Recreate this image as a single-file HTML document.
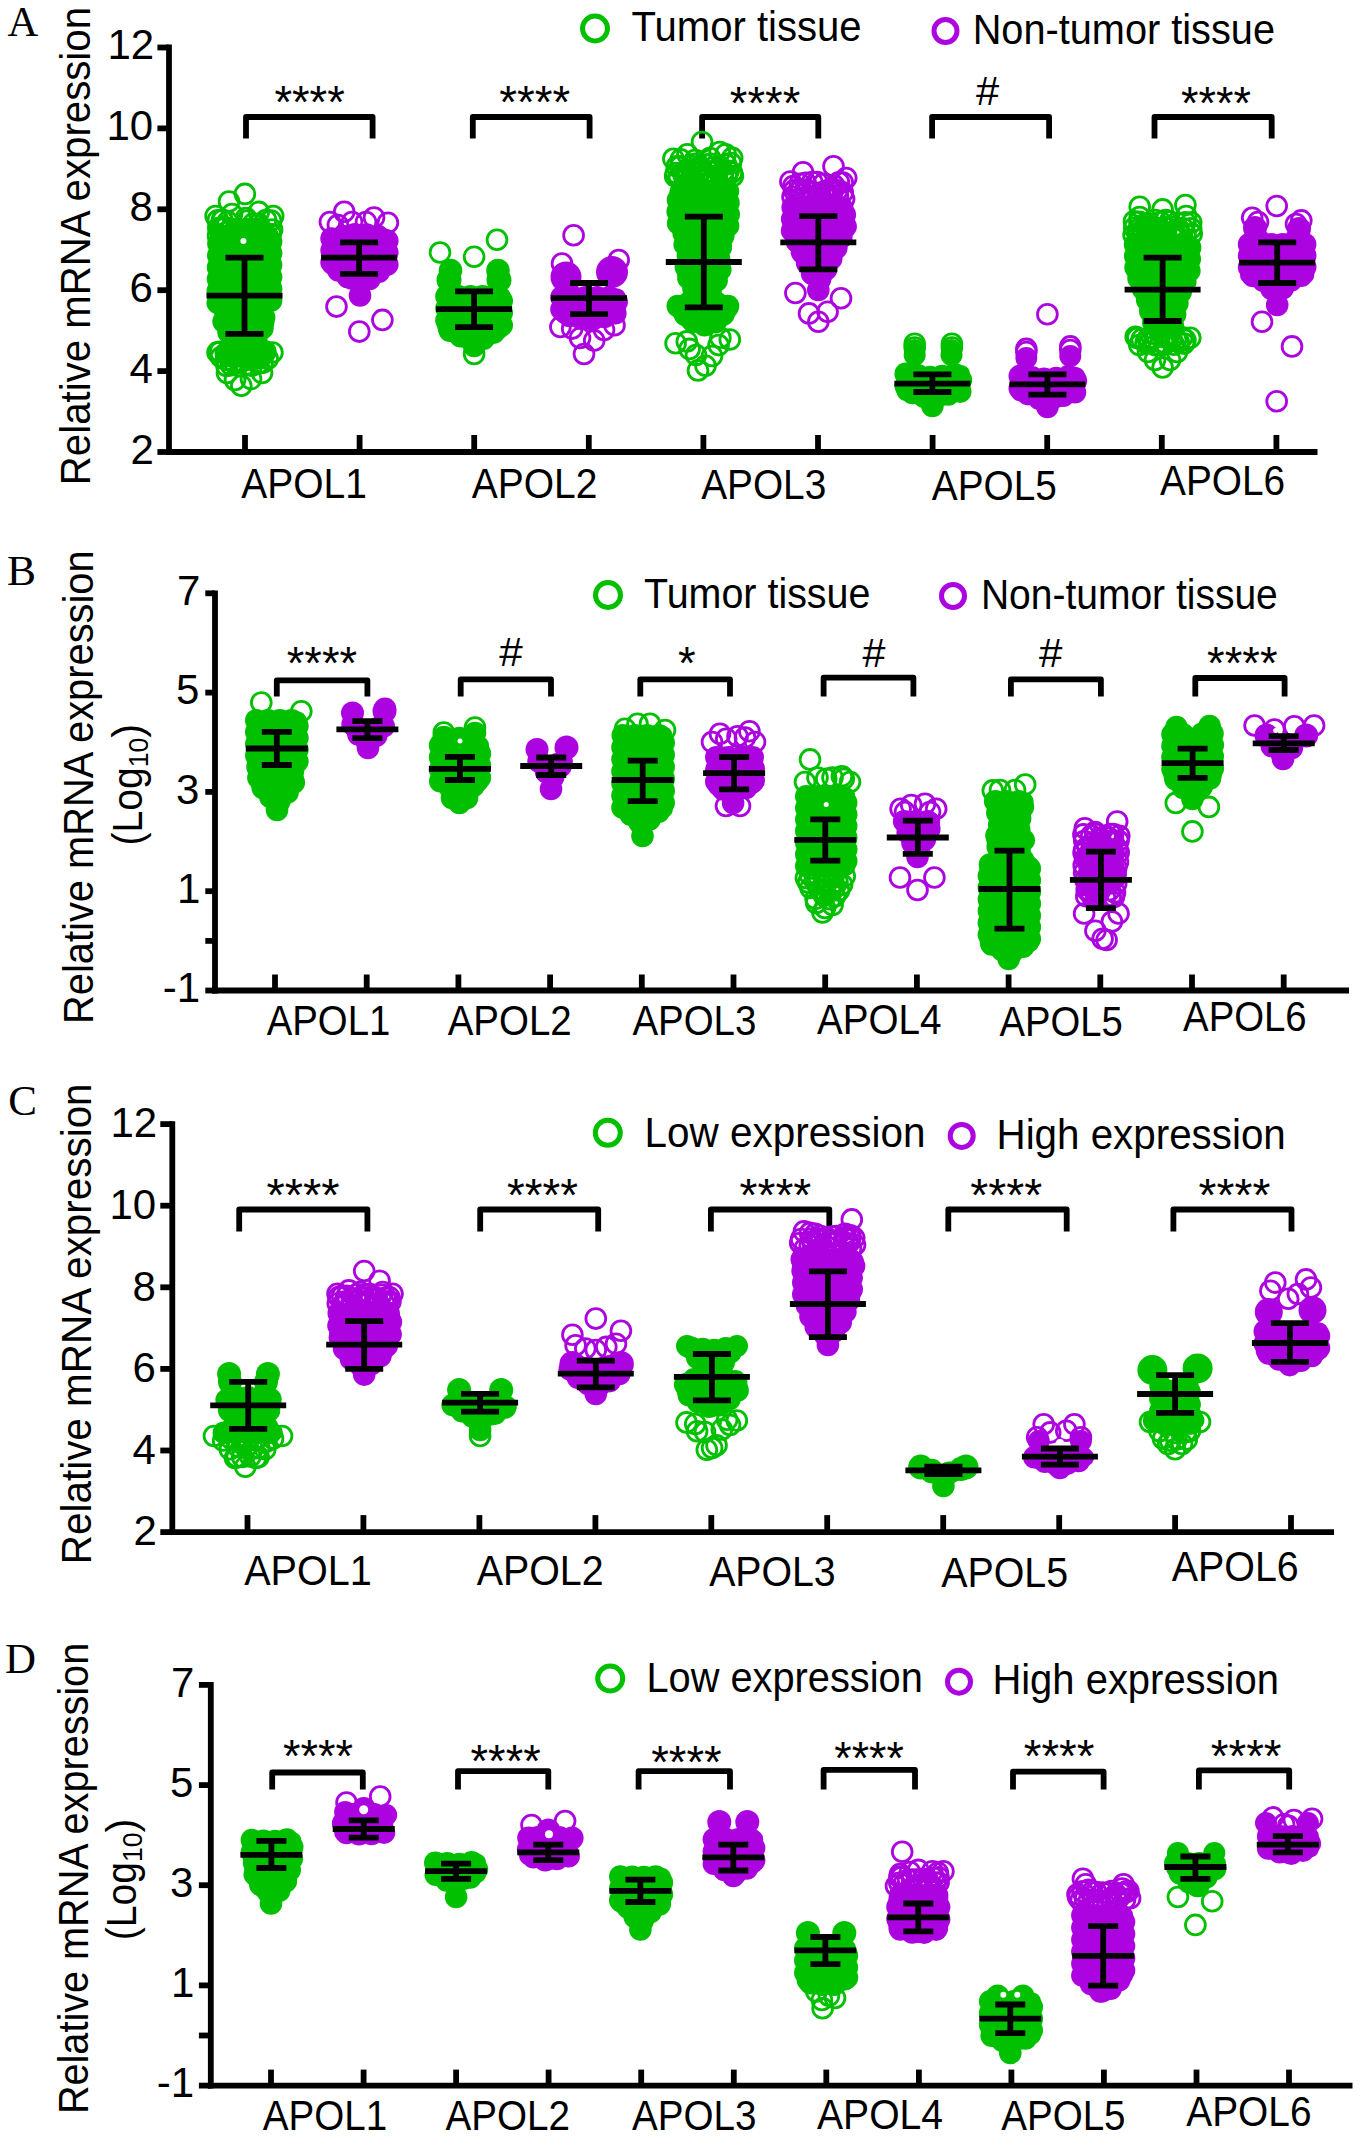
<!DOCTYPE html>
<html><head><meta charset="utf-8"><style>
html,body{margin:0;padding:0;background:#fff;}
svg{display:block;}
text{font-family:"Liberation Sans",sans-serif;fill:#000;}
</style></head><body>
<svg width="1360" height="2139" viewBox="0 0 1360 2139">
<rect width="1360" height="2139" fill="#fff"/>
<text x="7.5" y="35.7" style="font-family:'Liberation Serif'" font-size="42" textLength="30.7" lengthAdjust="spacingAndGlyphs">A</text>
<text x="6.9" y="584.9" style="font-family:'Liberation Serif'" font-size="42" textLength="29" lengthAdjust="spacingAndGlyphs">B</text>
<text x="8.2" y="1115" style="font-family:'Liberation Serif'" font-size="42" textLength="28.7" lengthAdjust="spacingAndGlyphs">C</text>
<text x="5.1" y="1672.9" style="font-family:'Liberation Serif'" font-size="42" textLength="31" lengthAdjust="spacingAndGlyphs">D</text>
<line x1="169" y1="44.6" x2="169" y2="454.9" stroke="#000" stroke-width="5.8"/>
<line x1="166.1" y1="452" x2="1317.5" y2="452" stroke="#000" stroke-width="5.8"/>
<line x1="157.4" y1="47.5" x2="169" y2="47.5" stroke="#000" stroke-width="5.8"/>
<text x="154.2" y="59.2" text-anchor="end" font-size="42">12</text>
<line x1="157.4" y1="128.4" x2="169" y2="128.4" stroke="#000" stroke-width="5.8"/>
<text x="153.2" y="140.1" text-anchor="end" font-size="42">10</text>
<line x1="157.4" y1="209.3" x2="169" y2="209.3" stroke="#000" stroke-width="5.8"/>
<text x="152.9" y="221" text-anchor="end" font-size="42">8</text>
<line x1="157.4" y1="290.2" x2="169" y2="290.2" stroke="#000" stroke-width="5.8"/>
<text x="152.9" y="301.9" text-anchor="end" font-size="42">6</text>
<line x1="157.4" y1="371.1" x2="169" y2="371.1" stroke="#000" stroke-width="5.8"/>
<text x="152.9" y="382.8" text-anchor="end" font-size="42">4</text>
<line x1="157.4" y1="452" x2="169" y2="452" stroke="#000" stroke-width="5.8"/>
<text x="153.9" y="463.7" text-anchor="end" font-size="42">2</text>
<line x1="245" y1="435" x2="245" y2="452" stroke="#000" stroke-width="5.8"/>
<line x1="359.6" y1="435" x2="359.6" y2="452" stroke="#000" stroke-width="5.8"/>
<line x1="474.2" y1="435" x2="474.2" y2="452" stroke="#000" stroke-width="5.8"/>
<line x1="588.8" y1="435" x2="588.8" y2="452" stroke="#000" stroke-width="5.8"/>
<line x1="703.4" y1="435" x2="703.4" y2="452" stroke="#000" stroke-width="5.8"/>
<line x1="818" y1="435" x2="818" y2="452" stroke="#000" stroke-width="5.8"/>
<line x1="932.6" y1="435" x2="932.6" y2="452" stroke="#000" stroke-width="5.8"/>
<line x1="1047.2" y1="435" x2="1047.2" y2="452" stroke="#000" stroke-width="5.8"/>
<line x1="1161.8" y1="435" x2="1161.8" y2="452" stroke="#000" stroke-width="5.8"/>
<line x1="1276.4" y1="435" x2="1276.4" y2="452" stroke="#000" stroke-width="5.8"/>
<text transform="translate(90.3,482.3) rotate(-90)" x="-2.9" y="0" font-size="42" textLength="478.2" lengthAdjust="spacingAndGlyphs">Relative mRNA expression</text>
<circle cx="595" cy="28.5" r="12.5" fill="none" stroke="#00C000" stroke-width="5"/>
<text x="631.5" y="41.2" style="font-family:'Liberation Sans'" font-size="42" textLength="230.1" lengthAdjust="spacingAndGlyphs">Tumor tissue</text>
<circle cx="945.5" cy="31" r="11.5" fill="none" stroke="#AC04E0" stroke-width="5"/>
<text x="972.7" y="44" style="font-family:'Liberation Sans'" font-size="42" textLength="302.3" lengthAdjust="spacingAndGlyphs">Non-tumor tissue</text>
<text x="241.3" y="498.3" style="font-family:'Liberation Sans'" font-size="42" textLength="125.6" lengthAdjust="spacingAndGlyphs">APOL1</text>
<text x="471.8" y="498.3" style="font-family:'Liberation Sans'" font-size="42" textLength="125.6" lengthAdjust="spacingAndGlyphs">APOL2</text>
<text x="701.2" y="498.8" style="font-family:'Liberation Sans'" font-size="42" textLength="125.1" lengthAdjust="spacingAndGlyphs">APOL3</text>
<text x="931.8" y="499.7" style="font-family:'Liberation Sans'" font-size="42" textLength="125" lengthAdjust="spacingAndGlyphs">APOL5</text>
<text x="1160" y="495" style="font-family:'Liberation Sans'" font-size="42" textLength="125.1" lengthAdjust="spacingAndGlyphs">APOL6</text>
<path d="M246 138.5V117H372.6V138.5" fill="none" stroke="#000" stroke-width="5.8" stroke-linejoin="round"/>
<text x="274.4" y="118" style="font-family:'Liberation Sans'" font-size="46" textLength="70.4" lengthAdjust="spacingAndGlyphs">****</text>
<path d="M472.8 138.5V117H589.6V138.5" fill="none" stroke="#000" stroke-width="5.8" stroke-linejoin="round"/>
<text x="499.3" y="118.4" style="font-family:'Liberation Sans'" font-size="46" textLength="71" lengthAdjust="spacingAndGlyphs">****</text>
<path d="M702.1 138.5V117H818.3V138.5" fill="none" stroke="#000" stroke-width="5.8" stroke-linejoin="round"/>
<text x="729.8" y="118.8" style="font-family:'Liberation Sans'" font-size="46" textLength="70.5" lengthAdjust="spacingAndGlyphs">****</text>
<path d="M932.1 138.5V117H1049.1V138.5" fill="none" stroke="#000" stroke-width="5.8" stroke-linejoin="round"/>
<text x="975.9" y="104.6" style="font-family:'Liberation Sans'" font-size="40" textLength="23.2" lengthAdjust="spacingAndGlyphs">#</text>
<path d="M1154.5 138.5V117H1271.7V138.5" fill="none" stroke="#000" stroke-width="5.8" stroke-linejoin="round"/>
<text x="1181" y="118.8" style="font-family:'Liberation Sans'" font-size="46" textLength="70.1" lengthAdjust="spacingAndGlyphs">****</text>
<g fill="none" stroke="#00C000" stroke-width="2.8"><circle cx="244.9" cy="193.9" r="9.9"/><circle cx="229" cy="201.6" r="9.9"/><circle cx="215.6" cy="216" r="9.9"/><circle cx="273.2" cy="216" r="9.9"/><circle cx="258.8" cy="211.9" r="9.9"/><circle cx="232" cy="214" r="9.9"/><circle cx="246" cy="218" r="9.9"/><circle cx="222" cy="220" r="9.9"/><circle cx="266" cy="220" r="9.9"/><circle cx="241.3" cy="385.8" r="9.9"/><circle cx="235" cy="380" r="9.9"/><circle cx="251" cy="379" r="9.9"/><circle cx="227" cy="373" r="9.9"/><circle cx="262" cy="373" r="9.9"/><circle cx="217.9" cy="220.3" r="9.9"/><circle cx="222.5" cy="220.2" r="9.9"/><circle cx="227.7" cy="221.7" r="9.9"/><circle cx="247.6" cy="220.5" r="9.9"/><circle cx="253.1" cy="223.8" r="9.9"/><circle cx="258.6" cy="223.9" r="9.9"/><circle cx="271" cy="220.6" r="9.9"/><circle cx="218.3" cy="228.1" r="9.9"/><circle cx="221.5" cy="228.8" r="9.9"/><circle cx="225.1" cy="227.6" r="9.9"/><circle cx="231.5" cy="229.1" r="9.9"/><circle cx="236.1" cy="229.2" r="9.9"/><circle cx="241.5" cy="230.1" r="9.9"/><circle cx="245.9" cy="229.4" r="9.9"/><circle cx="251.2" cy="228.5" r="9.9"/><circle cx="254.7" cy="229" r="9.9"/><circle cx="259.6" cy="229.3" r="9.9"/><circle cx="272.1" cy="229.6" r="9.9"/><circle cx="218" cy="235.8" r="9.9"/><circle cx="222.6" cy="236.8" r="9.9"/><circle cx="226.8" cy="236.1" r="9.9"/><circle cx="235.5" cy="237.4" r="9.9"/><circle cx="238.8" cy="235" r="9.9"/><circle cx="242.3" cy="235.3" r="9.9"/><circle cx="246.7" cy="233.7" r="9.9"/><circle cx="250.9" cy="234.4" r="9.9"/><circle cx="256.8" cy="233.8" r="9.9"/><circle cx="260.2" cy="237" r="9.9"/><circle cx="265.1" cy="234.5" r="9.9"/><circle cx="268.1" cy="237" r="9.9"/><circle cx="270.7" cy="234.1" r="9.9"/><circle cx="217.5" cy="352.4" r="9.9"/><circle cx="220" cy="351.7" r="9.9"/><circle cx="225.9" cy="353.8" r="9.9"/><circle cx="230.2" cy="352.5" r="9.9"/><circle cx="233.6" cy="353.6" r="9.9"/><circle cx="240.1" cy="353.2" r="9.9"/><circle cx="243.5" cy="350.4" r="9.9"/><circle cx="247.2" cy="350.3" r="9.9"/><circle cx="251.9" cy="351.4" r="9.9"/><circle cx="265.3" cy="351.5" r="9.9"/><circle cx="272.4" cy="352.5" r="9.9"/><circle cx="221" cy="357.1" r="9.9"/><circle cx="226.2" cy="359.7" r="9.9"/><circle cx="230.5" cy="356" r="9.9"/><circle cx="235.3" cy="356.8" r="9.9"/><circle cx="240" cy="355.8" r="9.9"/><circle cx="246" cy="356.3" r="9.9"/><circle cx="249.9" cy="357.8" r="9.9"/><circle cx="257" cy="358.5" r="9.9"/><circle cx="261" cy="356.4" r="9.9"/><circle cx="267.7" cy="358.8" r="9.9"/><circle cx="226.5" cy="365.9" r="9.9"/><circle cx="231.2" cy="365.3" r="9.9"/><circle cx="235.2" cy="364.1" r="9.9"/><circle cx="240" cy="362.1" r="9.9"/><circle cx="246" cy="364.8" r="9.9"/><circle cx="251.8" cy="365.7" r="9.9"/><circle cx="258.3" cy="363.5" r="9.9"/><circle cx="262.6" cy="362.8" r="9.9"/></g><polygon points="217.7,302.7 225,306 223.5,322 226.6,328.8 236.4,345.5 223.8,352.1 224.9,352.7 264.2,352.7 265.2,352.2 252,345.8 262.3,328.5 265.3,322.6 261.4,306 271.1,302.3 271.1,239.3 218.5,239.3" fill="#00C000" stroke="#00C000" stroke-width="18.2" stroke-linejoin="round"/><g fill="#00C000"><circle cx="217.7" cy="302.7" r="11.3"/><circle cx="224.6" cy="309.8" r="11.3"/><circle cx="223.6" cy="321.6" r="11.3"/><circle cx="228.6" cy="332.2" r="11.3"/><circle cx="234.6" cy="342.4" r="11.3"/><circle cx="229.2" cy="349.3" r="11.3"/><circle cx="229.4" cy="352.7" r="11.3"/><circle cx="241.2" cy="352.7" r="11.3"/><circle cx="253.1" cy="352.7" r="11.3"/><circle cx="264.8" cy="352.4" r="11.3"/><circle cx="254.9" cy="347.2" r="11.3"/><circle cx="256.3" cy="338.5" r="11.3"/><circle cx="262.4" cy="328.3" r="11.3"/><circle cx="264.1" cy="317.3" r="11.3"/><circle cx="261.6" cy="306" r="11.3"/><circle cx="271.1" cy="300.6" r="11.3"/><circle cx="271.1" cy="288.8" r="11.3"/><circle cx="271.1" cy="277" r="11.3"/><circle cx="271.1" cy="265.1" r="11.3"/><circle cx="271.1" cy="253.3" r="11.3"/><circle cx="271.1" cy="241.5" r="11.3"/><circle cx="261.5" cy="239.3" r="11.3"/><circle cx="249.6" cy="239.3" r="11.3"/><circle cx="237.8" cy="239.3" r="11.3"/><circle cx="226" cy="239.3" r="11.3"/><circle cx="218.4" cy="243.6" r="11.3"/><circle cx="218.3" cy="255.4" r="11.3"/><circle cx="218.1" cy="267.2" r="11.3"/><circle cx="218" cy="279.1" r="11.3"/><circle cx="217.8" cy="290.9" r="11.3"/></g><g fill="#fff"><circle cx="243.4" cy="241" r="3"/></g>
<path d="M244.5 257.7V333.8M225.5 257.7H263.5M225.5 333.8H263.5M206.5 295.7H282.5" stroke="#000" stroke-width="5.8" fill="none"/>
<g fill="none" stroke="#AC04E0" stroke-width="2.8"><circle cx="344.2" cy="211.8" r="9.9"/><circle cx="329.9" cy="222.1" r="9.9"/><circle cx="374" cy="217.6" r="9.9"/><circle cx="387.9" cy="222.8" r="9.9"/><circle cx="337.9" cy="225" r="9.9"/><circle cx="352" cy="222" r="9.9"/><circle cx="366" cy="222" r="9.9"/><circle cx="336.5" cy="306.6" r="9.9"/><circle cx="382.4" cy="319.9" r="9.9"/><circle cx="359.3" cy="331.6" r="9.9"/></g><polygon points="331.6,238.6 331.6,265.8 334.6,267.8 346.6,275.8 351.5,280.7 367.8,280.7 372.7,275.8 384.6,267.8 387.3,266 387.3,238.5 382.5,237.1 359.1,233.4 337.4,237.1" fill="#AC04E0" stroke="#AC04E0" stroke-width="18.2" stroke-linejoin="round"/><g fill="#AC04E0"><circle cx="331.6" cy="238.6" r="11.3"/><circle cx="331.6" cy="250.4" r="11.3"/><circle cx="331.6" cy="262.3" r="11.3"/><circle cx="338.5" cy="270.4" r="11.3"/><circle cx="348" cy="277.3" r="11.3"/><circle cx="358.4" cy="280.7" r="11.3"/><circle cx="369.5" cy="279" r="11.3"/><circle cx="378.8" cy="271.7" r="11.3"/><circle cx="387.3" cy="264.5" r="11.3"/><circle cx="387.3" cy="252.6" r="11.3"/><circle cx="387.3" cy="240.8" r="11.3"/><circle cx="378.1" cy="236.4" r="11.3"/><circle cx="366.4" cy="234.6" r="11.3"/><circle cx="354.8" cy="234.2" r="11.3"/><circle cx="343.1" cy="236.1" r="11.3"/></g><g fill="#AC04E0"><circle cx="360" cy="295.5" r="11.3"/></g>
<path d="M359.1 242.3V273.9M340.1 242.3H378.1M340.1 273.9H378.1M321.1 257.7H397.1" stroke="#000" stroke-width="5.8" fill="none"/>
<g fill="none" stroke="#00C000" stroke-width="2.8"><circle cx="440" cy="252.5" r="9.9"/><circle cx="474.1" cy="256.7" r="9.9"/><circle cx="497" cy="239.8" r="9.9"/><circle cx="474.1" cy="354" r="9.9"/></g><polygon points="446.5,296.3 446.5,328 449.2,330.4 457.8,334.2 463.8,338.7 484.2,338.7 490.2,334.2 498.8,330.4 501.7,327.9 501.7,296.3" fill="#00C000" stroke="#00C000" stroke-width="18.2" stroke-linejoin="round"/><g fill="#00C000"><circle cx="446.5" cy="296.3" r="11.3"/><circle cx="446.5" cy="308.3" r="11.3"/><circle cx="446.5" cy="320.3" r="11.3"/><circle cx="449.9" cy="330.7" r="11.3"/><circle cx="460.5" cy="336.2" r="11.3"/><circle cx="471.6" cy="338.7" r="11.3"/><circle cx="483.6" cy="338.7" r="11.3"/><circle cx="493.8" cy="332.6" r="11.3"/><circle cx="501.7" cy="325.2" r="11.3"/><circle cx="501.7" cy="313.1" r="11.3"/><circle cx="501.7" cy="301.1" r="11.3"/><circle cx="494.5" cy="296.3" r="11.3"/><circle cx="482.5" cy="296.3" r="11.3"/><circle cx="470.5" cy="296.3" r="11.3"/><circle cx="458.5" cy="296.3" r="11.3"/></g><g fill="#00C000"><circle cx="450.5" cy="270.5" r="11.8"/><circle cx="449" cy="280" r="12.5"/><circle cx="498" cy="270.5" r="11.8"/><circle cx="499" cy="280" r="12.5"/><circle cx="474.1" cy="346" r="11.3"/></g>
<path d="M474.1 291.4V327.2M455.1 291.4H493.1M455.1 327.2H493.1M436.1 309.2H512.1" stroke="#000" stroke-width="5.8" fill="none"/>
<g fill="none" stroke="#AC04E0" stroke-width="2.8"><circle cx="573.6" cy="235.3" r="9.9"/><circle cx="562" cy="263.5" r="9.9"/><circle cx="618.7" cy="260.1" r="9.9"/><circle cx="560.4" cy="326.9" r="9.9"/><circle cx="572.2" cy="328.6" r="9.9"/><circle cx="614.5" cy="325.2" r="9.9"/><circle cx="594.2" cy="340.4" r="9.9"/><circle cx="584" cy="354" r="9.9"/><circle cx="604" cy="330" r="9.9"/><circle cx="580" cy="338" r="9.9"/></g><polygon points="561.5,297.3 561.5,311.8 564.1,314.8 589,320.4 614,314.8 616.7,311.7 616.7,297.3" fill="#AC04E0" stroke="#AC04E0" stroke-width="18.2" stroke-linejoin="round"/><g fill="#AC04E0"><circle cx="561.5" cy="297.3" r="11.3"/><circle cx="561.5" cy="309.2" r="11.3"/><circle cx="569.4" cy="316" r="11.3"/><circle cx="581" cy="318.6" r="11.3"/><circle cx="592.7" cy="319.6" r="11.3"/><circle cx="604.3" cy="317" r="11.3"/><circle cx="615.3" cy="313.2" r="11.3"/><circle cx="616.7" cy="301.8" r="11.3"/><circle cx="609.3" cy="297.3" r="11.3"/><circle cx="597.3" cy="297.3" r="11.3"/><circle cx="585.4" cy="297.3" r="11.3"/><circle cx="573.4" cy="297.3" r="11.3"/></g><g fill="#AC04E0"><circle cx="566" cy="277" r="15.5"/><circle cx="612" cy="272" r="16"/></g>
<path d="M589 283V314.2M570 283H608M570 314.2H608M551 298.2H627" stroke="#000" stroke-width="5.8" fill="none"/>
<g fill="none" stroke="#00C000" stroke-width="2.8"><circle cx="702" cy="142.1" r="9.9"/><circle cx="673.4" cy="158.7" r="9.9"/><circle cx="687.4" cy="154.3" r="9.9"/><circle cx="719.7" cy="152" r="9.9"/><circle cx="725.6" cy="154.3" r="9.9"/><circle cx="732.2" cy="157.9" r="9.9"/><circle cx="680.7" cy="159.4" r="9.9"/><circle cx="695" cy="160" r="9.9"/><circle cx="710" cy="158" r="9.9"/><circle cx="675.6" cy="343.3" r="9.9"/><circle cx="686.8" cy="341.4" r="9.9"/><circle cx="689.6" cy="348.9" r="9.9"/><circle cx="718.6" cy="345.1" r="9.9"/><circle cx="729.8" cy="339.5" r="9.9"/><circle cx="720.4" cy="337.7" r="9.9"/><circle cx="698" cy="370.4" r="9.9"/><circle cx="705.5" cy="365.7" r="9.9"/><circle cx="696" cy="355" r="9.9"/><circle cx="712" cy="356" r="9.9"/><circle cx="676.8" cy="166.4" r="9.9"/><circle cx="680.3" cy="166.2" r="9.9"/><circle cx="691.1" cy="166.1" r="9.9"/><circle cx="695.1" cy="163.7" r="9.9"/><circle cx="699.9" cy="166.2" r="9.9"/><circle cx="705.1" cy="164.6" r="9.9"/><circle cx="711" cy="163.7" r="9.9"/><circle cx="714.7" cy="166.6" r="9.9"/><circle cx="719.8" cy="166.3" r="9.9"/><circle cx="726.1" cy="164.4" r="9.9"/><circle cx="730.9" cy="163.1" r="9.9"/><circle cx="675.9" cy="173.1" r="9.9"/><circle cx="682.8" cy="172.7" r="9.9"/><circle cx="685.9" cy="170.5" r="9.9"/><circle cx="691.4" cy="170.4" r="9.9"/><circle cx="695" cy="173" r="9.9"/><circle cx="700.4" cy="171.7" r="9.9"/><circle cx="705" cy="173" r="9.9"/><circle cx="710" cy="171.5" r="9.9"/><circle cx="718.5" cy="169.4" r="9.9"/><circle cx="723.1" cy="171.3" r="9.9"/><circle cx="728.7" cy="170.7" r="9.9"/><circle cx="731.9" cy="172.5" r="9.9"/><circle cx="675.2" cy="176.3" r="9.9"/><circle cx="679" cy="177.4" r="9.9"/><circle cx="684.3" cy="176.9" r="9.9"/><circle cx="687.6" cy="177.2" r="9.9"/><circle cx="691.8" cy="177.3" r="9.9"/><circle cx="697.3" cy="177.9" r="9.9"/><circle cx="701.6" cy="176.2" r="9.9"/><circle cx="705.9" cy="178.5" r="9.9"/><circle cx="708.3" cy="176.9" r="9.9"/><circle cx="716.8" cy="177.8" r="9.9"/><circle cx="723" cy="175.8" r="9.9"/><circle cx="726.8" cy="175.7" r="9.9"/><circle cx="732.9" cy="176" r="9.9"/></g><polygon points="677.8,306.1 678.7,309.2 683.8,313 689.1,320.4 706.5,326 718.7,320.8 724.4,313 728.6,309.8 729.1,306.8 729,306.4 705,299.7 717.7,278.5 720.3,271.9 720.3,266 718.1,253.8 722.4,243.2 723.4,233.3 728.7,224.8 728.7,208.2 728.1,191.3 678.6,191.3 677.5,208.1 678.3,224.5 684,233.5 684.4,243.8 688.2,254 685.9,266.1 685.9,271.8 688.7,278.9 699.1,299.8" fill="#00C000" stroke="#00C000" stroke-width="18.2" stroke-linejoin="round"/><g fill="#00C000"><circle cx="677.8" cy="306.1" r="11.3"/><circle cx="685" cy="314.7" r="11.3"/><circle cx="693.4" cy="321.8" r="11.3"/><circle cx="704.5" cy="325.3" r="11.3"/><circle cx="715.2" cy="322.3" r="11.3"/><circle cx="723.4" cy="314.5" r="11.3"/><circle cx="728" cy="306.1" r="11.3"/><circle cx="716.8" cy="303" r="11.3"/><circle cx="705.7" cy="299.9" r="11.3"/><circle cx="710.6" cy="290.4" r="11.3"/><circle cx="716.6" cy="280.4" r="11.3"/><circle cx="720.3" cy="269.6" r="11.3"/><circle cx="718.9" cy="258.2" r="11.3"/><circle cx="720.8" cy="247.2" r="11.3"/><circle cx="723.2" cy="235.9" r="11.3"/><circle cx="728.1" cy="225.7" r="11.3"/><circle cx="728.7" cy="214.3" r="11.3"/><circle cx="728.5" cy="202.7" r="11.3"/><circle cx="727.9" cy="191.3" r="11.3"/><circle cx="716.3" cy="191.3" r="11.3"/><circle cx="704.7" cy="191.3" r="11.3"/><circle cx="693.1" cy="191.3" r="11.3"/><circle cx="681.5" cy="191.3" r="11.3"/><circle cx="678" cy="200" r="11.3"/><circle cx="677.7" cy="211.6" r="11.3"/><circle cx="678.2" cy="223.2" r="11.3"/><circle cx="683.7" cy="233.2" r="11.3"/><circle cx="684.7" cy="244.6" r="11.3"/><circle cx="687.9" cy="255.6" r="11.3"/><circle cx="685.9" cy="267" r="11.3"/><circle cx="688.4" cy="278.1" r="11.3"/><circle cx="693.5" cy="288.5" r="11.3"/><circle cx="698.6" cy="298.9" r="11.3"/><circle cx="688.9" cy="302.8" r="11.3"/></g>
<path d="M703.8 216.6V307.3M684.8 216.6H722.8M684.8 307.3H722.8M665.8 262H741.8" stroke="#000" stroke-width="5.8" fill="none"/>
<g fill="none" stroke="#AC04E0" stroke-width="2.8"><circle cx="803" cy="172.2" r="9.9"/><circle cx="833.5" cy="166.3" r="9.9"/><circle cx="846.2" cy="178.1" r="9.9"/><circle cx="790.4" cy="181.5" r="9.9"/><circle cx="795.4" cy="293" r="9.9"/><circle cx="841" cy="298.2" r="9.9"/><circle cx="809" cy="313.4" r="9.9"/><circle cx="827.6" cy="311.7" r="9.9"/><circle cx="818.3" cy="321.8" r="9.9"/><circle cx="793.3" cy="186" r="9.9"/><circle cx="799.8" cy="183.7" r="9.9"/><circle cx="805.7" cy="182.8" r="9.9"/><circle cx="812.2" cy="182.1" r="9.9"/><circle cx="817.1" cy="182.1" r="9.9"/><circle cx="823.1" cy="184" r="9.9"/><circle cx="834.6" cy="185.9" r="9.9"/><circle cx="838.9" cy="182.2" r="9.9"/><circle cx="842.7" cy="182.5" r="9.9"/><circle cx="794.1" cy="190.4" r="9.9"/><circle cx="798.6" cy="191.6" r="9.9"/><circle cx="801.2" cy="189.6" r="9.9"/><circle cx="806.5" cy="189.6" r="9.9"/><circle cx="811.6" cy="192.6" r="9.9"/><circle cx="819.3" cy="192.8" r="9.9"/><circle cx="824.5" cy="191.6" r="9.9"/><circle cx="828.9" cy="189.9" r="9.9"/><circle cx="833.3" cy="189.8" r="9.9"/><circle cx="837.4" cy="190.2" r="9.9"/><circle cx="842.8" cy="192.4" r="9.9"/><circle cx="792.5" cy="196.8" r="9.9"/><circle cx="799.9" cy="198.4" r="9.9"/><circle cx="804.5" cy="197.3" r="9.9"/><circle cx="808.4" cy="198.7" r="9.9"/><circle cx="813.5" cy="198.8" r="9.9"/><circle cx="817.7" cy="198.2" r="9.9"/><circle cx="821.5" cy="198.8" r="9.9"/><circle cx="826.4" cy="197.1" r="9.9"/><circle cx="829.1" cy="196" r="9.9"/><circle cx="838" cy="196.1" r="9.9"/><circle cx="844.1" cy="198.9" r="9.9"/></g><polygon points="792.7,207.3 791.6,229.9 796.3,240.3 802.2,252.7 808.2,265.2 813.3,276.2 818.3,280.7 823.1,276.3 827.8,265.2 834.3,252.7 839.9,240 845.7,229.4 844.4,207.3" fill="#AC04E0" stroke="#AC04E0" stroke-width="18.2" stroke-linejoin="round"/><g fill="#AC04E0"><circle cx="792.7" cy="207.3" r="11.3"/><circle cx="792.2" cy="219.1" r="11.3"/><circle cx="792.1" cy="230.8" r="11.3"/><circle cx="796.9" cy="241.6" r="11.3"/><circle cx="802" cy="252.3" r="11.3"/><circle cx="807.1" cy="263" r="11.3"/><circle cx="812.1" cy="273.7" r="11.3"/><circle cx="820" cy="279.2" r="11.3"/><circle cx="826.1" cy="269.3" r="11.3"/><circle cx="831.2" cy="258.7" r="11.3"/><circle cx="836.3" cy="248" r="11.3"/><circle cx="841.3" cy="237.3" r="11.3"/><circle cx="845.6" cy="226.6" r="11.3"/><circle cx="844.8" cy="214.8" r="11.3"/><circle cx="840.1" cy="207.3" r="11.3"/><circle cx="828.2" cy="207.3" r="11.3"/><circle cx="816.4" cy="207.3" r="11.3"/><circle cx="804.6" cy="207.3" r="11.3"/></g><g fill="#AC04E0"><circle cx="818.3" cy="290" r="11.3"/></g>
<path d="M818.3 216.1V269.4M799.3 216.1H837.3M799.3 269.4H837.3M780.3 242.4H856.3" stroke="#000" stroke-width="5.8" fill="none"/>
<g fill="none" stroke="#00C000" stroke-width="2.8"><circle cx="914.7" cy="343.8" r="9.9"/><circle cx="914.7" cy="347.5" r="9.9"/><circle cx="951.9" cy="343.8" r="9.9"/><circle cx="951.9" cy="347.5" r="9.9"/></g><polygon points="905.7,373.8 905.7,391.7 913.1,393.1 922.7,396.7 942.3,396.7 952,393 960.9,391.5 960.9,374.2 959,373.6 932.4,377.4 906.3,373.6" fill="#00C000" stroke="#00C000" stroke-width="18.2" stroke-linejoin="round"/><g fill="#00C000"><circle cx="905.7" cy="373.8" r="11.3"/><circle cx="905.7" cy="386.1" r="11.3"/><circle cx="912.4" cy="392.9" r="11.3"/><circle cx="924" cy="396.7" r="11.3"/><circle cx="936.3" cy="396.7" r="11.3"/><circle cx="948.3" cy="394.5" r="11.3"/><circle cx="960.2" cy="391.6" r="11.3"/><circle cx="960.9" cy="379.9" r="11.3"/><circle cx="954.4" cy="374.2" r="11.3"/><circle cx="942.2" cy="376" r="11.3"/><circle cx="930.1" cy="377.1" r="11.3"/><circle cx="917.9" cy="375.3" r="11.3"/></g><g fill="#00C000"><circle cx="914.7" cy="355" r="11"/><circle cx="951.5" cy="355" r="11"/><circle cx="914.7" cy="349" r="10"/><circle cx="951.5" cy="349" r="10"/><circle cx="932.4" cy="406" r="11.3"/></g>
<path d="M932.4 374.3V392M913.4 374.3H951.4M913.4 392H951.4M894.4 383.6H970.4" stroke="#000" stroke-width="5.8" fill="none"/>
<g fill="none" stroke="#AC04E0" stroke-width="2.8"><circle cx="1047.4" cy="314.2" r="9.9"/><circle cx="1026.3" cy="348.9" r="9.9"/><circle cx="1026.3" cy="352" r="9.9"/><circle cx="1070.3" cy="346.4" r="9.9"/><circle cx="1070.3" cy="350" r="9.9"/></g><polygon points="1019.8,376 1019.8,392.1 1028.8,394.3 1038.1,398.7 1056.8,398.7 1066.3,394.3 1075.9,392 1075.9,376.2 1074,375.6 1047.4,379.4 1021.1,375.6" fill="#AC04E0" stroke="#AC04E0" stroke-width="18.2" stroke-linejoin="round"/><g fill="#AC04E0"><circle cx="1019.8" cy="376" r="11.3"/><circle cx="1019.8" cy="388.3" r="11.3"/><circle cx="1028" cy="394.1" r="11.3"/><circle cx="1039.3" cy="398.7" r="11.3"/><circle cx="1051.6" cy="398.7" r="11.3"/><circle cx="1063.2" cy="395.7" r="11.3"/><circle cx="1074.9" cy="392.3" r="11.3"/><circle cx="1075.9" cy="380.7" r="11.3"/><circle cx="1068.3" cy="376.4" r="11.3"/><circle cx="1056.2" cy="378.1" r="11.3"/><circle cx="1044" cy="378.9" r="11.3"/><circle cx="1031.9" cy="377.2" r="11.3"/></g><g fill="#AC04E0"><circle cx="1026.3" cy="358" r="11"/><circle cx="1070.3" cy="356" r="11"/><circle cx="1047.4" cy="407" r="11.3"/></g>
<path d="M1047.4 374.3V394.6M1028.4 374.3H1066.4M1028.4 394.6H1066.4M1009.4 384.4H1085.4" stroke="#000" stroke-width="5.8" fill="none"/>
<g fill="none" stroke="#00C000" stroke-width="2.8"><circle cx="1139.7" cy="206.8" r="9.9"/><circle cx="1139.7" cy="217" r="9.9"/><circle cx="1162.6" cy="209.4" r="9.9"/><circle cx="1185.4" cy="205.1" r="9.9"/><circle cx="1186.2" cy="216.1" r="9.9"/><circle cx="1162.6" cy="367.5" r="9.9"/><circle cx="1155" cy="360" r="9.9"/><circle cx="1170" cy="360" r="9.9"/><circle cx="1148" cy="352" r="9.9"/><circle cx="1177" cy="352" r="9.9"/><circle cx="1134" cy="221.2" r="9.9"/><circle cx="1139.4" cy="221.8" r="9.9"/><circle cx="1146.5" cy="223.9" r="9.9"/><circle cx="1149.8" cy="223.9" r="9.9"/><circle cx="1155.2" cy="220" r="9.9"/><circle cx="1160.6" cy="222" r="9.9"/><circle cx="1165.7" cy="220" r="9.9"/><circle cx="1169.8" cy="221.6" r="9.9"/><circle cx="1185.4" cy="222.3" r="9.9"/><circle cx="1191.2" cy="222.6" r="9.9"/><circle cx="1134.3" cy="227.7" r="9.9"/><circle cx="1138.7" cy="229.3" r="9.9"/><circle cx="1142.8" cy="229.7" r="9.9"/><circle cx="1148.5" cy="229.3" r="9.9"/><circle cx="1151.6" cy="228.5" r="9.9"/><circle cx="1157.6" cy="229.6" r="9.9"/><circle cx="1161.3" cy="229.9" r="9.9"/><circle cx="1165.9" cy="227.3" r="9.9"/><circle cx="1173.7" cy="226.8" r="9.9"/><circle cx="1178.5" cy="228.9" r="9.9"/><circle cx="1183.1" cy="228.3" r="9.9"/><circle cx="1191.2" cy="228.4" r="9.9"/><circle cx="1133.6" cy="235.1" r="9.9"/><circle cx="1137.7" cy="233.2" r="9.9"/><circle cx="1142" cy="235.1" r="9.9"/><circle cx="1146.7" cy="233.6" r="9.9"/><circle cx="1151.1" cy="235.2" r="9.9"/><circle cx="1155" cy="232.4" r="9.9"/><circle cx="1158.1" cy="235.1" r="9.9"/><circle cx="1162.9" cy="232.2" r="9.9"/><circle cx="1171.1" cy="234.9" r="9.9"/><circle cx="1174.2" cy="234.2" r="9.9"/><circle cx="1178.6" cy="232.6" r="9.9"/><circle cx="1182" cy="236" r="9.9"/><circle cx="1185.5" cy="233.9" r="9.9"/><circle cx="1191.7" cy="233.9" r="9.9"/><circle cx="1135.7" cy="336.8" r="9.9"/><circle cx="1137.4" cy="338.1" r="9.9"/><circle cx="1141.7" cy="339.3" r="9.9"/><circle cx="1147.8" cy="338.8" r="9.9"/><circle cx="1152.1" cy="337.9" r="9.9"/><circle cx="1164" cy="337.2" r="9.9"/><circle cx="1168" cy="337.3" r="9.9"/><circle cx="1171.5" cy="339" r="9.9"/><circle cx="1176.1" cy="339.7" r="9.9"/><circle cx="1182.3" cy="337.2" r="9.9"/><circle cx="1185.4" cy="340" r="9.9"/><circle cx="1190.3" cy="337.7" r="9.9"/><circle cx="1139.3" cy="345" r="9.9"/><circle cx="1145.6" cy="342.7" r="9.9"/><circle cx="1149.5" cy="342.5" r="9.9"/><circle cx="1155.5" cy="345.2" r="9.9"/><circle cx="1159.7" cy="345.3" r="9.9"/><circle cx="1164.5" cy="344.6" r="9.9"/><circle cx="1174.1" cy="344.7" r="9.9"/><circle cx="1178.7" cy="341.9" r="9.9"/><circle cx="1184" cy="343.6" r="9.9"/></g><polygon points="1135.1,244.3 1135,248.9 1135.7,272 1146.2,296.3 1154.5,326.7 1172.7,326.7 1178.8,296.6 1189.4,272 1190.2,249 1190,244.3" fill="#00C000" stroke="#00C000" stroke-width="18.2" stroke-linejoin="round"/><g fill="#00C000"><circle cx="1135.1" cy="244.3" r="11.3"/><circle cx="1135.2" cy="255.9" r="11.3"/><circle cx="1135.6" cy="267.5" r="11.3"/><circle cx="1138.6" cy="278.6" r="11.3"/><circle cx="1143.2" cy="289.2" r="11.3"/><circle cx="1147.2" cy="300.1" r="11.3"/><circle cx="1150.3" cy="311.3" r="11.3"/><circle cx="1153.3" cy="322.5" r="11.3"/><circle cx="1161.8" cy="326.7" r="11.3"/><circle cx="1172.9" cy="326" r="11.3"/><circle cx="1175.1" cy="314.6" r="11.3"/><circle cx="1177.4" cy="303.2" r="11.3"/><circle cx="1180.7" cy="292.1" r="11.3"/><circle cx="1185.3" cy="281.5" r="11.3"/><circle cx="1189.4" cy="270.7" r="11.3"/><circle cx="1189.8" cy="259.1" r="11.3"/><circle cx="1190.1" cy="247.5" r="11.3"/><circle cx="1181.6" cy="244.3" r="11.3"/><circle cx="1170" cy="244.3" r="11.3"/><circle cx="1158.3" cy="244.3" r="11.3"/><circle cx="1146.7" cy="244.3" r="11.3"/></g>
<path d="M1162.6 257.6V321M1143.6 257.6H1181.6M1143.6 321H1181.6M1124.6 289.7H1200.6" stroke="#000" stroke-width="5.8" fill="none"/>
<g fill="none" stroke="#AC04E0" stroke-width="2.8"><circle cx="1276.7" cy="206" r="9.9"/><circle cx="1252.2" cy="217.8" r="9.9"/><circle cx="1301.3" cy="220.4" r="9.9"/><circle cx="1258" cy="222" r="9.9"/><circle cx="1296" cy="224" r="9.9"/><circle cx="1262" cy="321.8" r="9.9"/><circle cx="1292" cy="346.4" r="9.9"/><circle cx="1276.7" cy="401.3" r="9.9"/></g><polygon points="1249.1,244.2 1249.1,274.7 1259,277.7 1266.7,283 1271.4,288.7 1282.4,288.7 1286.8,282.9 1295.3,277.6 1305.2,274.6 1305.2,244.2 1292.4,241.6 1277.2,245.7 1261.7,241.6" fill="#AC04E0" stroke="#AC04E0" stroke-width="18.2" stroke-linejoin="round"/><g fill="#AC04E0"><circle cx="1249.1" cy="244.2" r="11.3"/><circle cx="1249.1" cy="255.7" r="11.3"/><circle cx="1249.1" cy="267.2" r="11.3"/><circle cx="1253" cy="275.9" r="11.3"/><circle cx="1263.3" cy="280.7" r="11.3"/><circle cx="1271.4" cy="288.7" r="11.3"/><circle cx="1282.7" cy="288.2" r="11.3"/><circle cx="1290.9" cy="280.4" r="11.3"/><circle cx="1301.3" cy="275.8" r="11.3"/><circle cx="1305.2" cy="267.1" r="11.3"/><circle cx="1305.2" cy="255.6" r="11.3"/><circle cx="1305.1" cy="244.2" r="11.3"/><circle cx="1293.8" cy="241.9" r="11.3"/><circle cx="1282.7" cy="244.2" r="11.3"/><circle cx="1271.5" cy="244.2" r="11.3"/><circle cx="1260.4" cy="241.9" r="11.3"/></g><g fill="#AC04E0"><circle cx="1255" cy="228" r="12"/><circle cx="1299" cy="229" r="12"/><circle cx="1277.2" cy="305" r="11.3"/></g>
<path d="M1277.2 242.4V283M1258.2 242.4H1296.2M1258.2 283H1296.2M1239.2 262.6H1315.2" stroke="#000" stroke-width="5.8" fill="none"/>
<line x1="215" y1="590.4" x2="215" y2="993.4" stroke="#000" stroke-width="5.8"/>
<line x1="212.1" y1="990.5" x2="1349" y2="990.5" stroke="#000" stroke-width="5.8"/>
<line x1="205.3" y1="593.3" x2="215" y2="593.3" stroke="#000" stroke-width="5.8"/>
<text x="200.3" y="605" text-anchor="end" font-size="42">7</text>
<line x1="205.3" y1="692.6" x2="215" y2="692.6" stroke="#000" stroke-width="5.8"/>
<text x="199.3" y="704.3" text-anchor="end" font-size="42">5</text>
<line x1="205.3" y1="791.9" x2="215" y2="791.9" stroke="#000" stroke-width="5.8"/>
<text x="199.3" y="803.6" text-anchor="end" font-size="42">3</text>
<line x1="205.3" y1="891.2" x2="215" y2="891.2" stroke="#000" stroke-width="5.8"/>
<text x="200.3" y="902.9" text-anchor="end" font-size="42">1</text>
<line x1="205.3" y1="940.9" x2="215" y2="940.9" stroke="#000" stroke-width="5.8"/>
<line x1="205.3" y1="990.5" x2="215" y2="990.5" stroke="#000" stroke-width="5.8"/>
<text x="200.2" y="1002.2" text-anchor="end" font-size="42">-1</text>
<line x1="275" y1="974.5" x2="275" y2="990.5" stroke="#000" stroke-width="5.8"/>
<line x1="366.7" y1="974.5" x2="366.7" y2="990.5" stroke="#000" stroke-width="5.8"/>
<line x1="458.4" y1="974.5" x2="458.4" y2="990.5" stroke="#000" stroke-width="5.8"/>
<line x1="550.1" y1="974.5" x2="550.1" y2="990.5" stroke="#000" stroke-width="5.8"/>
<line x1="641.8" y1="974.5" x2="641.8" y2="990.5" stroke="#000" stroke-width="5.8"/>
<line x1="733.5" y1="974.5" x2="733.5" y2="990.5" stroke="#000" stroke-width="5.8"/>
<line x1="825.2" y1="974.5" x2="825.2" y2="990.5" stroke="#000" stroke-width="5.8"/>
<line x1="916.9" y1="974.5" x2="916.9" y2="990.5" stroke="#000" stroke-width="5.8"/>
<line x1="1008.6" y1="974.5" x2="1008.6" y2="990.5" stroke="#000" stroke-width="5.8"/>
<line x1="1100.3" y1="974.5" x2="1100.3" y2="990.5" stroke="#000" stroke-width="5.8"/>
<line x1="1192" y1="974.5" x2="1192" y2="990.5" stroke="#000" stroke-width="5.8"/>
<line x1="1283.7" y1="974.5" x2="1283.7" y2="990.5" stroke="#000" stroke-width="5.8"/>
<text transform="translate(93.2,1021.1) rotate(-90)" x="-2.8" y="0" font-size="42" textLength="473.5" lengthAdjust="spacingAndGlyphs">Relative mRNA expression</text>
<circle cx="608" cy="595" r="12.5" fill="none" stroke="#00C000" stroke-width="5"/>
<text x="644.1" y="608" style="font-family:'Liberation Sans'" font-size="42" textLength="226.3" lengthAdjust="spacingAndGlyphs">Tumor tissue</text>
<circle cx="953" cy="596" r="11.5" fill="none" stroke="#AC04E0" stroke-width="5"/>
<text x="980.9" y="608.9" style="font-family:'Liberation Sans'" font-size="42" textLength="296.9" lengthAdjust="spacingAndGlyphs">Non-tumor tissue</text>
<text x="266.7" y="1034.7" style="font-family:'Liberation Sans'" font-size="42" textLength="123.7" lengthAdjust="spacingAndGlyphs">APOL1</text>
<text x="447.7" y="1034.7" style="font-family:'Liberation Sans'" font-size="42" textLength="124.1" lengthAdjust="spacingAndGlyphs">APOL2</text>
<text x="632.4" y="1034.7" style="font-family:'Liberation Sans'" font-size="42" textLength="124" lengthAdjust="spacingAndGlyphs">APOL3</text>
<text x="817" y="1033.5" style="font-family:'Liberation Sans'" font-size="42" textLength="124.4" lengthAdjust="spacingAndGlyphs">APOL4</text>
<text x="999.6" y="1035.9" style="font-family:'Liberation Sans'" font-size="42" textLength="123.2" lengthAdjust="spacingAndGlyphs">APOL5</text>
<text x="1183.1" y="1030.7" style="font-family:'Liberation Sans'" font-size="42" textLength="123.6" lengthAdjust="spacingAndGlyphs">APOL6</text>
<path d="M276.8 696.5V680.4H367.4V696.5" fill="none" stroke="#000" stroke-width="5.8" stroke-linejoin="round"/>
<text x="286.7" y="679.2" style="font-family:'Liberation Sans'" font-size="46" textLength="70.4" lengthAdjust="spacingAndGlyphs">****</text>
<path d="M460.7 696.5V679.3H551V696.5" fill="none" stroke="#000" stroke-width="5.8" stroke-linejoin="round"/>
<text x="499.3" y="665.7" style="font-family:'Liberation Sans'" font-size="40" textLength="23.5" lengthAdjust="spacingAndGlyphs">#</text>
<path d="M640.3 696.5V679.3H730V696.5" fill="none" stroke="#000" stroke-width="5.8" stroke-linejoin="round"/>
<text x="677.9" y="679.2" style="font-family:'Liberation Sans'" font-size="46" textLength="17.7" lengthAdjust="spacingAndGlyphs">*</text>
<path d="M823.6 696.5V677.7H913.4V696.5" fill="none" stroke="#000" stroke-width="5.8" stroke-linejoin="round"/>
<text x="862.5" y="667" style="font-family:'Liberation Sans'" font-size="40" textLength="22.9" lengthAdjust="spacingAndGlyphs">#</text>
<path d="M1010.9 696.5V679.3H1100.9V696.5" fill="none" stroke="#000" stroke-width="5.8" stroke-linejoin="round"/>
<text x="1038.9" y="667" style="font-family:'Liberation Sans'" font-size="40" textLength="23.4" lengthAdjust="spacingAndGlyphs">#</text>
<path d="M1195.3 696.5V678H1284.6V696.5" fill="none" stroke="#000" stroke-width="5.8" stroke-linejoin="round"/>
<text x="1207.1" y="679.2" style="font-family:'Liberation Sans'" font-size="46" textLength="70.5" lengthAdjust="spacingAndGlyphs">****</text>
<g fill="none" stroke="#00C000" stroke-width="2.8"><circle cx="261.3" cy="702.5" r="9.9"/><circle cx="301.3" cy="711.3" r="9.9"/></g><polygon points="256.3,720.3 256.3,764.9 260.2,771.4 257.9,779.4 259.9,784.2 266.6,792.7 273.4,800.3 277,802.6 280.6,800.3 287.1,793 293,784.6 295.1,779.4 292.6,770.7 297.4,764.2 297.4,720.3" fill="#00C000" stroke="#00C000" stroke-width="18.2" stroke-linejoin="round"/><g fill="#00C000"><circle cx="256.3" cy="720.3" r="11.3"/><circle cx="256.3" cy="732" r="11.3"/><circle cx="256.3" cy="743.8" r="11.3"/><circle cx="256.3" cy="755.5" r="11.3"/><circle cx="257.5" cy="766.9" r="11.3"/><circle cx="258.4" cy="777.7" r="11.3"/><circle cx="262.8" cy="787.9" r="11.3"/><circle cx="270.4" cy="796.9" r="11.3"/><circle cx="279.5" cy="801" r="11.3"/><circle cx="287.5" cy="792.5" r="11.3"/><circle cx="293.8" cy="782.6" r="11.3"/><circle cx="292.8" cy="771.5" r="11.3"/><circle cx="297.4" cy="761.4" r="11.3"/><circle cx="297.4" cy="749.6" r="11.3"/><circle cx="297.4" cy="737.9" r="11.3"/><circle cx="297.4" cy="726.1" r="11.3"/><circle cx="291.5" cy="720.3" r="11.3"/><circle cx="279.8" cy="720.3" r="11.3"/><circle cx="268" cy="720.3" r="11.3"/></g><g fill="#00C000"><circle cx="277" cy="810" r="11.3"/></g>
<path d="M276.8 731.9V765M261.8 731.9H291.8M261.8 765H291.8M245.8 748.5H307.8" stroke="#000" stroke-width="5.8" fill="none"/>
<g fill="none" stroke="#AC04E0" stroke-width="2.8"><circle cx="385" cy="708.8" r="9.9"/></g><polygon points="352.6,724.3 352.6,726.6 356.8,732.8 365.4,741.4 368,743.4 370.6,741.4 379.3,732.7 383.7,726.4 383.7,724.3 379.7,724.3 368,739.8 356.3,724.3" fill="#AC04E0" stroke="#AC04E0" stroke-width="18.2" stroke-linejoin="round"/><g fill="#AC04E0"><circle cx="352.6" cy="724.3" r="11.3"/><circle cx="358.5" cy="734.5" r="11.3"/><circle cx="367.3" cy="742.8" r="11.3"/><circle cx="376.2" cy="735.8" r="11.3"/><circle cx="383.7" cy="726.3" r="11.3"/><circle cx="376" cy="729.2" r="11.3"/><circle cx="368.7" cy="738.9" r="11.3"/><circle cx="361.4" cy="731" r="11.3"/></g><g fill="#AC04E0"><circle cx="352.5" cy="713" r="11.5"/><circle cx="384.5" cy="711" r="12"/><circle cx="368" cy="748" r="11.3"/></g>
<path d="M367.4 721.2V738.1M352.4 721.2H382.4M352.4 738.1H382.4M336.4 729.4H398.4" stroke="#000" stroke-width="5.8" fill="none"/>
<g fill="none" stroke="#00C000" stroke-width="2.8"><circle cx="443.8" cy="732.5" r="9.9"/><circle cx="475" cy="727.5" r="9.9"/></g><polygon points="440.1,745.3 440.1,781 442.8,783.4 451.2,788.7 468.2,788.7 478.1,783.4 479.9,781.4 479.9,745.3" fill="#00C000" stroke="#00C000" stroke-width="18.2" stroke-linejoin="round"/><g fill="#00C000"><circle cx="440.1" cy="745.3" r="11.3"/><circle cx="440.1" cy="757.3" r="11.3"/><circle cx="440.1" cy="769.3" r="11.3"/><circle cx="440.3" cy="781.2" r="11.3"/><circle cx="450.2" cy="788" r="11.3"/><circle cx="462" cy="788.7" r="11.3"/><circle cx="473.3" cy="785.9" r="11.3"/><circle cx="479.9" cy="777.5" r="11.3"/><circle cx="479.9" cy="765.5" r="11.3"/><circle cx="479.9" cy="753.5" r="11.3"/><circle cx="476.1" cy="745.3" r="11.3"/><circle cx="464.1" cy="745.3" r="11.3"/><circle cx="452.1" cy="745.3" r="11.3"/></g><g fill="#00C000"><circle cx="459.4" cy="803" r="11.3"/><circle cx="452" cy="798" r="11.3"/><circle cx="467" cy="798" r="11.3"/><circle cx="443.8" cy="737" r="11.3"/><circle cx="475" cy="733" r="11.3"/><circle cx="459.4" cy="738" r="11.3"/></g><g fill="#fff"><circle cx="460" cy="741" r="2.5"/></g>
<path d="M459.9 756.9V780M444.9 756.9H474.9M444.9 780H474.9M428.9 768.8H490.9" stroke="#000" stroke-width="5.8" fill="none"/>
<polygon points="538.6,761.3 540.5,764.8 547.3,773.6 551.2,780 555.7,773.6 561.5,764.8 563.8,761.3 560.7,761.3 551,771 541.3,761.3" fill="#AC04E0" stroke="#AC04E0" stroke-width="18.2" stroke-linejoin="round"/><g fill="#AC04E0"><circle cx="538.6" cy="761.3" r="11.3"/><circle cx="546.1" cy="772" r="11.3"/><circle cx="553.2" cy="777.1" r="11.3"/><circle cx="560.5" cy="766.3" r="11.3"/><circle cx="557.9" cy="764.1" r="11.3"/><circle cx="548.6" cy="768.6" r="11.3"/></g><g fill="#AC04E0"><circle cx="537" cy="749.5" r="11.5"/><circle cx="566.5" cy="747.5" r="12"/><circle cx="551" cy="789" r="11.3"/></g>
<path d="M551.2 757.5V775M536.2 757.5H566.2M536.2 775H566.2M520.2 766H582.2" stroke="#000" stroke-width="5.8" fill="none"/>
<g fill="none" stroke="#00C000" stroke-width="2.8"><circle cx="625" cy="728.8" r="9.9"/><circle cx="637.5" cy="723.8" r="9.9"/><circle cx="650" cy="723.8" r="9.9"/><circle cx="665" cy="730" r="9.9"/></g><polygon points="622.8,735.3 622.5,738.5 622.5,809.5 629.4,813.5 637.1,821.1 642.5,824.6 647.9,821.1 655.7,813.3 663.7,809.1 663.7,738.5 663.4,735.3" fill="#00C000" stroke="#00C000" stroke-width="18.2" stroke-linejoin="round"/><g fill="#00C000"><circle cx="622.8" cy="735.3" r="11.3"/><circle cx="622.5" cy="747.3" r="11.3"/><circle cx="622.5" cy="759.3" r="11.3"/><circle cx="622.5" cy="771.3" r="11.3"/><circle cx="622.5" cy="783.3" r="11.3"/><circle cx="622.5" cy="795.4" r="11.3"/><circle cx="622.5" cy="807.4" r="11.3"/><circle cx="630.8" cy="814.8" r="11.3"/><circle cx="639.7" cy="822.8" r="11.3"/><circle cx="649.5" cy="819.5" r="11.3"/><circle cx="658.6" cy="811.8" r="11.3"/><circle cx="663.7" cy="802.8" r="11.3"/><circle cx="663.7" cy="790.8" r="11.3"/><circle cx="663.7" cy="778.8" r="11.3"/><circle cx="663.7" cy="766.8" r="11.3"/><circle cx="663.7" cy="754.8" r="11.3"/><circle cx="663.7" cy="742.8" r="11.3"/><circle cx="658.9" cy="735.3" r="11.3"/><circle cx="646.9" cy="735.3" r="11.3"/><circle cx="634.9" cy="735.3" r="11.3"/></g><g fill="#00C000"><circle cx="642.5" cy="836" r="11.3"/></g>
<path d="M642.7 760.6V801.2M627.7 760.6H657.7M627.7 801.2H657.7M611.7 780H673.7" stroke="#000" stroke-width="5.8" fill="none"/>
<g fill="none" stroke="#AC04E0" stroke-width="2.8"><circle cx="720" cy="733.8" r="9.9"/><circle cx="749.4" cy="731.2" r="9.9"/><circle cx="726.2" cy="738.8" r="9.9"/><circle cx="737.5" cy="736.2" r="9.9"/><circle cx="745" cy="737.5" r="9.9"/><circle cx="712" cy="742" r="9.9"/><circle cx="755" cy="742" r="9.9"/><circle cx="726" cy="806" r="9.9"/><circle cx="740" cy="806" r="9.9"/></g><polygon points="716.3,757.3 716.3,785.8 718.3,787.6 732.9,792.9 747.9,787.2 753.7,784.1 753.7,757.3" fill="#AC04E0" stroke="#AC04E0" stroke-width="18.2" stroke-linejoin="round"/><g fill="#AC04E0"><circle cx="716.3" cy="757.3" r="11.3"/><circle cx="716.3" cy="769.4" r="11.3"/><circle cx="716.3" cy="781.6" r="11.3"/><circle cx="723.2" cy="789.4" r="11.3"/><circle cx="734.6" cy="792.3" r="11.3"/><circle cx="746" cy="787.9" r="11.3"/><circle cx="753.7" cy="780.6" r="11.3"/><circle cx="753.7" cy="768.5" r="11.3"/><circle cx="752.7" cy="757.3" r="11.3"/><circle cx="740.6" cy="757.3" r="11.3"/><circle cx="728.4" cy="757.3" r="11.3"/></g><g fill="#AC04E0"><circle cx="733.1" cy="803" r="11.3"/></g>
<path d="M734.1 757.2V789.4M719.1 757.2H749.1M719.1 789.4H749.1M703.1 773.1H765.1" stroke="#000" stroke-width="5.8" fill="none"/>
<g fill="none" stroke="#00C000" stroke-width="2.8"><circle cx="810" cy="759.4" r="9.9"/><circle cx="817.5" cy="777.5" r="9.9"/><circle cx="826.2" cy="778.8" r="9.9"/><circle cx="832.5" cy="777.5" r="9.9"/><circle cx="841.9" cy="776.2" r="9.9"/><circle cx="843.8" cy="778.8" r="9.9"/><circle cx="805" cy="782" r="9.9"/><circle cx="850" cy="782" r="9.9"/><circle cx="822.5" cy="912.5" r="9.9"/><circle cx="816.2" cy="903" r="9.9"/><circle cx="832.5" cy="905" r="9.9"/><circle cx="825" cy="908" r="9.9"/><circle cx="805.9" cy="877.9" r="9.9"/><circle cx="810.1" cy="875.2" r="9.9"/><circle cx="814.5" cy="874.7" r="9.9"/><circle cx="819.1" cy="877.6" r="9.9"/><circle cx="824.1" cy="877.6" r="9.9"/><circle cx="829.6" cy="874.6" r="9.9"/><circle cx="833.8" cy="875.4" r="9.9"/><circle cx="844.7" cy="876.3" r="9.9"/><circle cx="808.2" cy="882.4" r="9.9"/><circle cx="815.2" cy="882.1" r="9.9"/><circle cx="827.9" cy="881.2" r="9.9"/><circle cx="832.7" cy="884.2" r="9.9"/><circle cx="837.5" cy="881.7" r="9.9"/><circle cx="842.1" cy="884.5" r="9.9"/><circle cx="810.5" cy="888" r="9.9"/><circle cx="819.5" cy="889.8" r="9.9"/><circle cx="822.8" cy="889.4" r="9.9"/><circle cx="830.2" cy="891.3" r="9.9"/><circle cx="834.3" cy="888.3" r="9.9"/><circle cx="839" cy="890.6" r="9.9"/><circle cx="815.6" cy="898.7" r="9.9"/><circle cx="824.1" cy="895.8" r="9.9"/><circle cx="830" cy="899.3" r="9.9"/><circle cx="834.9" cy="896.2" r="9.9"/></g><polygon points="806.3,796.3 806.3,866.7 846,866.7 846.2,866.6 846.2,796.3" fill="#00C000" stroke="#00C000" stroke-width="18.2" stroke-linejoin="round"/><g fill="#00C000"><circle cx="806.3" cy="796.3" r="11.3"/><circle cx="806.3" cy="807.9" r="11.3"/><circle cx="806.3" cy="819.5" r="11.3"/><circle cx="806.3" cy="831.1" r="11.3"/><circle cx="806.3" cy="842.7" r="11.3"/><circle cx="806.3" cy="854.3" r="11.3"/><circle cx="806.3" cy="865.9" r="11.3"/><circle cx="817.1" cy="866.7" r="11.3"/><circle cx="828.7" cy="866.7" r="11.3"/><circle cx="840.4" cy="866.7" r="11.3"/><circle cx="846.2" cy="860.9" r="11.3"/><circle cx="846.2" cy="849.2" r="11.3"/><circle cx="846.2" cy="837.6" r="11.3"/><circle cx="846.2" cy="826" r="11.3"/><circle cx="846.2" cy="814.4" r="11.3"/><circle cx="846.2" cy="802.8" r="11.3"/><circle cx="841.1" cy="796.3" r="11.3"/><circle cx="829.5" cy="796.3" r="11.3"/><circle cx="817.9" cy="796.3" r="11.3"/></g><g fill="#fff"><circle cx="826.2" cy="804.4" r="2.5"/></g>
<path d="M825.3 819.4V860.6M810.3 819.4H840.3M810.3 860.6H840.3M794.3 839.8H856.3" stroke="#000" stroke-width="5.8" fill="none"/>
<g fill="none" stroke="#AC04E0" stroke-width="2.8"><circle cx="900.6" cy="808.8" r="9.9"/><circle cx="911.2" cy="805" r="9.9"/><circle cx="925" cy="803.8" r="9.9"/><circle cx="936.2" cy="808.8" r="9.9"/><circle cx="905" cy="812" r="9.9"/><circle cx="930" cy="812" r="9.9"/><circle cx="900" cy="877.5" r="9.9"/><circle cx="917.5" cy="890" r="9.9"/><circle cx="934.4" cy="877.5" r="9.9"/></g><polygon points="904.2,821.3 908,833.4 915.5,849.3 917.5,851 919.8,849.1 928.1,833.4 931.2,821.3" fill="#AC04E0" stroke="#AC04E0" stroke-width="18.2" stroke-linejoin="round"/><g fill="#AC04E0"><circle cx="904.2" cy="821.3" r="11.3"/><circle cx="907.7" cy="832.4" r="11.3"/><circle cx="912.5" cy="843" r="11.3"/><circle cx="919" cy="849.7" r="11.3"/><circle cx="924.8" cy="839.6" r="11.3"/><circle cx="929.3" cy="829" r="11.3"/><circle cx="927.5" cy="821.3" r="11.3"/><circle cx="915.8" cy="821.3" r="11.3"/></g><g fill="#AC04E0"><circle cx="917.5" cy="857" r="11.3"/></g>
<path d="M917.8 820.6V853.8M902.8 820.6H932.8M902.8 853.8H932.8M886.8 837.5H948.8" stroke="#000" stroke-width="5.8" fill="none"/>
<g fill="none" stroke="#00C000" stroke-width="2.8"><circle cx="992.8" cy="790.4" r="9.9"/><circle cx="1025.2" cy="784.5" r="9.9"/><circle cx="1000" cy="790" r="9.9"/><circle cx="1015" cy="790" r="9.9"/></g><polygon points="995.2,801.3 997.3,813.1 999.6,827.2 995.5,838.1 995.5,840.2 1000.7,855.9 988.9,865.4 988.9,942.9 994.2,946.1 1008.8,953.4 1024.5,946 1029.8,942.9 1029.8,865.4 1017.7,855.6 1023.8,839.9 1023.8,838.7 1018.1,827.5 1021.5,812.3 1024.5,801.3" fill="#00C000" stroke="#00C000" stroke-width="18.2" stroke-linejoin="round"/><g fill="#00C000"><circle cx="995.2" cy="801.3" r="11.3"/><circle cx="997.3" cy="812.8" r="11.3"/><circle cx="999.2" cy="824.4" r="11.3"/><circle cx="996.5" cy="835.5" r="11.3"/><circle cx="997.7" cy="846.7" r="11.3"/><circle cx="999.1" cy="857.2" r="11.3"/><circle cx="990" cy="864.5" r="11.3"/><circle cx="988.9" cy="875.8" r="11.3"/><circle cx="988.9" cy="887.5" r="11.3"/><circle cx="988.9" cy="899.2" r="11.3"/><circle cx="988.9" cy="910.9" r="11.3"/><circle cx="988.9" cy="922.7" r="11.3"/><circle cx="988.9" cy="934.4" r="11.3"/><circle cx="991.7" cy="944.5" r="11.3"/><circle cx="1002" cy="950" r="11.3"/><circle cx="1012.5" cy="951.7" r="11.3"/><circle cx="1023.1" cy="946.7" r="11.3"/><circle cx="1029.8" cy="938.8" r="11.3"/><circle cx="1029.8" cy="927.1" r="11.3"/><circle cx="1029.8" cy="915.4" r="11.3"/><circle cx="1029.8" cy="903.6" r="11.3"/><circle cx="1029.8" cy="891.9" r="11.3"/><circle cx="1029.8" cy="880.2" r="11.3"/><circle cx="1029.8" cy="868.5" r="11.3"/><circle cx="1023.1" cy="860" r="11.3"/><circle cx="1019.4" cy="851.1" r="11.3"/><circle cx="1023.7" cy="840.2" r="11.3"/><circle cx="1019.2" cy="829.6" r="11.3"/><circle cx="1020.1" cy="818.4" r="11.3"/><circle cx="1022.9" cy="807" r="11.3"/><circle cx="1018.7" cy="801.3" r="11.3"/><circle cx="1006.9" cy="801.3" r="11.3"/></g><g fill="#00C000"><circle cx="1008.7" cy="959" r="11.3"/></g>
<path d="M1009.5 850.7V928.7M994.5 850.7H1024.5M994.5 928.7H1024.5M978.5 889H1040.5" stroke="#000" stroke-width="5.8" fill="none"/>
<g fill="none" stroke="#AC04E0" stroke-width="2.8"><circle cx="1084.8" cy="828.2" r="9.9"/><circle cx="1117.2" cy="821.5" r="9.9"/><circle cx="1110.6" cy="834.1" r="9.9"/><circle cx="1095" cy="832" r="9.9"/><circle cx="1084.1" cy="913.5" r="9.9"/><circle cx="1118.5" cy="913.5" r="9.9"/><circle cx="1111.9" cy="921.5" r="9.9"/><circle cx="1095.4" cy="930.7" r="9.9"/><circle cx="1102.6" cy="938.7" r="9.9"/><circle cx="1106.6" cy="940" r="9.9"/><circle cx="1083.4" cy="834.4" r="9.9"/><circle cx="1091.3" cy="835.6" r="9.9"/><circle cx="1095.9" cy="834" r="9.9"/><circle cx="1100" cy="837.8" r="9.9"/><circle cx="1105.5" cy="835.9" r="9.9"/><circle cx="1108.5" cy="837.8" r="9.9"/><circle cx="1113.2" cy="834.1" r="9.9"/><circle cx="1119.3" cy="835.7" r="9.9"/><circle cx="1084.3" cy="841" r="9.9"/><circle cx="1092.4" cy="842.8" r="9.9"/><circle cx="1098.3" cy="843" r="9.9"/><circle cx="1101.9" cy="843.9" r="9.9"/><circle cx="1108.5" cy="841" r="9.9"/><circle cx="1113.3" cy="841.2" r="9.9"/><circle cx="1118.5" cy="840.8" r="9.9"/><circle cx="1084.1" cy="849.9" r="9.9"/><circle cx="1087.5" cy="847" r="9.9"/><circle cx="1091.8" cy="846.3" r="9.9"/><circle cx="1103.4" cy="849.7" r="9.9"/><circle cx="1108.6" cy="849.9" r="9.9"/><circle cx="1111.6" cy="849.9" r="9.9"/><circle cx="1117" cy="848.8" r="9.9"/><circle cx="1083.6" cy="852.9" r="9.9"/><circle cx="1092.9" cy="856" r="9.9"/><circle cx="1099.2" cy="853" r="9.9"/><circle cx="1103.7" cy="855.5" r="9.9"/><circle cx="1106.7" cy="854.1" r="9.9"/><circle cx="1113.6" cy="853" r="9.9"/><circle cx="1118.7" cy="852.3" r="9.9"/><circle cx="1085.1" cy="858.4" r="9.9"/><circle cx="1097.7" cy="861.3" r="9.9"/><circle cx="1102.6" cy="859.4" r="9.9"/><circle cx="1108" cy="859.3" r="9.9"/><circle cx="1112" cy="859.4" r="9.9"/><circle cx="1118" cy="861.9" r="9.9"/><circle cx="1083.7" cy="865.3" r="9.9"/><circle cx="1090.9" cy="868.2" r="9.9"/><circle cx="1093.8" cy="866.1" r="9.9"/><circle cx="1100" cy="865.1" r="9.9"/><circle cx="1104.2" cy="867.6" r="9.9"/><circle cx="1108.5" cy="865.7" r="9.9"/><circle cx="1112.5" cy="867.5" r="9.9"/><circle cx="1116.3" cy="867.4" r="9.9"/><circle cx="1084.1" cy="872.6" r="9.9"/><circle cx="1090" cy="873.9" r="9.9"/><circle cx="1092.8" cy="870.7" r="9.9"/><circle cx="1102.9" cy="872.2" r="9.9"/><circle cx="1106.6" cy="872.9" r="9.9"/><circle cx="1111.9" cy="873.8" r="9.9"/><circle cx="1115.7" cy="873.8" r="9.9"/><circle cx="1085.2" cy="879.4" r="9.9"/><circle cx="1088.7" cy="877.5" r="9.9"/><circle cx="1094.6" cy="878.8" r="9.9"/><circle cx="1097.8" cy="880.4" r="9.9"/><circle cx="1101.8" cy="879.7" r="9.9"/><circle cx="1108" cy="876.9" r="9.9"/><circle cx="1112" cy="879.8" r="9.9"/><circle cx="1115.1" cy="877.6" r="9.9"/><circle cx="1087.1" cy="884.9" r="9.9"/><circle cx="1089.4" cy="886" r="9.9"/><circle cx="1094.1" cy="885.7" r="9.9"/><circle cx="1098.8" cy="884.9" r="9.9"/><circle cx="1104" cy="884" r="9.9"/><circle cx="1109" cy="883.6" r="9.9"/><circle cx="1116.2" cy="883.4" r="9.9"/><circle cx="1086.7" cy="889.4" r="9.9"/><circle cx="1088.9" cy="891.8" r="9.9"/><circle cx="1093.5" cy="889" r="9.9"/><circle cx="1099.5" cy="891.2" r="9.9"/><circle cx="1109.6" cy="890.2" r="9.9"/><circle cx="1115" cy="892.4" r="9.9"/><circle cx="1086.3" cy="896.3" r="9.9"/><circle cx="1092" cy="896.1" r="9.9"/><circle cx="1096.1" cy="895.5" r="9.9"/><circle cx="1104.9" cy="898" r="9.9"/><circle cx="1110.7" cy="896.5" r="9.9"/><circle cx="1113.9" cy="896.9" r="9.9"/></g><polygon points="1087.3,856.3 1087.3,858.7 1092.7,881.1 1095,885.7 1108.5,885.7 1110.1,881.7 1114.7,858.9 1114.7,856.3" fill="#AC04E0" stroke="#AC04E0" stroke-width="18.2" stroke-linejoin="round"/><g fill="#AC04E0"><circle cx="1087.3" cy="856.3" r="11.3"/><circle cx="1089.7" cy="868.7" r="11.3"/><circle cx="1092.7" cy="881.1" r="11.3"/><circle cx="1102.5" cy="885.7" r="11.3"/><circle cx="1110.6" cy="879.3" r="11.3"/><circle cx="1113.1" cy="866.9" r="11.3"/><circle cx="1112.7" cy="856.3" r="11.3"/><circle cx="1100" cy="856.3" r="11.3"/></g>
<path d="M1100.9 851.7V908.2M1085.9 851.7H1115.9M1085.9 908.2H1115.9M1069.9 879.8H1131.9" stroke="#000" stroke-width="5.8" fill="none"/>
<g fill="none" stroke="#00C000" stroke-width="2.8"><circle cx="1175.8" cy="802.9" r="9.9"/><circle cx="1208.9" cy="806.9" r="9.9"/><circle cx="1192.4" cy="831.4" r="9.9"/></g><polygon points="1172.5,734.2 1172.5,776 1175.6,779.5 1184,789 1192.1,794.3 1199.6,789 1209.5,779 1212.8,775.7 1212.8,733.9 1211.5,732.3 1203.9,732.3 1192.9,741 1181.5,733.3 1173.2,733.3" fill="#00C000" stroke="#00C000" stroke-width="18.2" stroke-linejoin="round"/><g fill="#00C000"><circle cx="1172.5" cy="734.2" r="11.3"/><circle cx="1172.5" cy="745.7" r="11.3"/><circle cx="1172.5" cy="757.3" r="11.3"/><circle cx="1172.5" cy="768.9" r="11.3"/><circle cx="1175.5" cy="779.3" r="11.3"/><circle cx="1183.2" cy="788.1" r="11.3"/><circle cx="1192.6" cy="793.9" r="11.3"/><circle cx="1201.7" cy="786.8" r="11.3"/><circle cx="1209.9" cy="778.6" r="11.3"/><circle cx="1212.8" cy="768.2" r="11.3"/><circle cx="1212.8" cy="756.6" r="11.3"/><circle cx="1212.8" cy="745" r="11.3"/><circle cx="1212.5" cy="733.5" r="11.3"/><circle cx="1202" cy="733.8" r="11.3"/><circle cx="1192.9" cy="741" r="11.3"/><circle cx="1183.3" cy="734.5" r="11.3"/></g><g fill="#00C000"><circle cx="1176.5" cy="727" r="11.3"/><circle cx="1209.6" cy="726" r="11.3"/><circle cx="1192.4" cy="799" r="11.3"/></g>
<path d="M1192.6 748.7V777.8M1177.6 748.7H1207.6M1177.6 777.8H1207.6M1161.6 763.2H1223.6" stroke="#000" stroke-width="5.8" fill="none"/>
<g fill="none" stroke="#AC04E0" stroke-width="2.8"><circle cx="1254.6" cy="725.5" r="9.9"/><circle cx="1314.1" cy="725.5" r="9.9"/><circle cx="1274.4" cy="729.5" r="9.9"/><circle cx="1294.3" cy="726.2" r="9.9"/></g><polygon points="1271.9,746.3 1283,754.8 1294.1,746.3" fill="#AC04E0" stroke="#AC04E0" stroke-width="18.2" stroke-linejoin="round"/><g fill="#AC04E0"><circle cx="1271.9" cy="746.3" r="11.3"/><circle cx="1281.9" cy="753.9" r="11.3"/><circle cx="1291.8" cy="748" r="11.3"/><circle cx="1284.4" cy="746.3" r="11.3"/></g><g fill="#AC04E0"><circle cx="1266.5" cy="735.4" r="12"/><circle cx="1306.2" cy="735.4" r="12"/><circle cx="1283" cy="759" r="11.3"/></g><g fill="#fff"><circle cx="1275.7" cy="730.5" r="2.5"/><circle cx="1290.3" cy="731" r="2.5"/></g>
<path d="M1283.7 736.1V750M1268.7 736.1H1298.7M1268.7 750H1298.7M1252.7 743.4H1314.7" stroke="#000" stroke-width="5.8" fill="none"/>
<line x1="172.3" y1="1121.2" x2="172.3" y2="1535" stroke="#000" stroke-width="5.8"/>
<line x1="169.4" y1="1532.1" x2="1334" y2="1532.1" stroke="#000" stroke-width="5.8"/>
<line x1="160.3" y1="1124.1" x2="172.3" y2="1124.1" stroke="#000" stroke-width="5.8"/>
<text x="157.2" y="1137.4" text-anchor="end" font-size="42">12</text>
<line x1="160.3" y1="1205.7" x2="172.3" y2="1205.7" stroke="#000" stroke-width="5.8"/>
<text x="156.2" y="1219" text-anchor="end" font-size="42">10</text>
<line x1="160.3" y1="1287.3" x2="172.3" y2="1287.3" stroke="#000" stroke-width="5.8"/>
<text x="155.9" y="1300.6" text-anchor="end" font-size="42">8</text>
<line x1="160.3" y1="1368.9" x2="172.3" y2="1368.9" stroke="#000" stroke-width="5.8"/>
<text x="155.9" y="1382.2" text-anchor="end" font-size="42">6</text>
<line x1="160.3" y1="1450.5" x2="172.3" y2="1450.5" stroke="#000" stroke-width="5.8"/>
<text x="155.9" y="1463.8" text-anchor="end" font-size="42">4</text>
<line x1="160.3" y1="1532.1" x2="172.3" y2="1532.1" stroke="#000" stroke-width="5.8"/>
<text x="156.9" y="1545.4" text-anchor="end" font-size="42">2</text>
<line x1="247.5" y1="1515.1" x2="247.5" y2="1532.1" stroke="#000" stroke-width="5.8"/>
<line x1="363.4" y1="1515.1" x2="363.4" y2="1532.1" stroke="#000" stroke-width="5.8"/>
<line x1="479.4" y1="1515.1" x2="479.4" y2="1532.1" stroke="#000" stroke-width="5.8"/>
<line x1="595.4" y1="1515.1" x2="595.4" y2="1532.1" stroke="#000" stroke-width="5.8"/>
<line x1="711.3" y1="1515.1" x2="711.3" y2="1532.1" stroke="#000" stroke-width="5.8"/>
<line x1="827.2" y1="1515.1" x2="827.2" y2="1532.1" stroke="#000" stroke-width="5.8"/>
<line x1="943.2" y1="1515.1" x2="943.2" y2="1532.1" stroke="#000" stroke-width="5.8"/>
<line x1="1059.2" y1="1515.1" x2="1059.2" y2="1532.1" stroke="#000" stroke-width="5.8"/>
<line x1="1175.1" y1="1515.1" x2="1175.1" y2="1532.1" stroke="#000" stroke-width="5.8"/>
<line x1="1291" y1="1515.1" x2="1291" y2="1532.1" stroke="#000" stroke-width="5.8"/>
<text transform="translate(91.4,1561.3) rotate(-90)" x="-2.9" y="0" font-size="42" textLength="480.8" lengthAdjust="spacingAndGlyphs">Relative mRNA expression</text>
<circle cx="607.8" cy="1132.8" r="12.5" fill="none" stroke="#00C000" stroke-width="5"/>
<text x="644.6" y="1146.8" style="font-family:'Liberation Sans'" font-size="42" textLength="280.9" lengthAdjust="spacingAndGlyphs">Low expression</text>
<circle cx="961.7" cy="1135.9" r="11.5" fill="none" stroke="#AC04E0" stroke-width="5"/>
<text x="996.5" y="1149.1" style="font-family:'Liberation Sans'" font-size="42" textLength="289.3" lengthAdjust="spacingAndGlyphs">High expression</text>
<text x="244.2" y="1585.3" style="font-family:'Liberation Sans'" font-size="42" textLength="127.6" lengthAdjust="spacingAndGlyphs">APOL1</text>
<text x="476.7" y="1585.3" style="font-family:'Liberation Sans'" font-size="42" textLength="126.9" lengthAdjust="spacingAndGlyphs">APOL2</text>
<text x="709.2" y="1586.1" style="font-family:'Liberation Sans'" font-size="42" textLength="126.5" lengthAdjust="spacingAndGlyphs">APOL3</text>
<text x="941.2" y="1587" style="font-family:'Liberation Sans'" font-size="42" textLength="126.9" lengthAdjust="spacingAndGlyphs">APOL5</text>
<text x="1171.8" y="1581.4" style="font-family:'Liberation Sans'" font-size="42" textLength="126.9" lengthAdjust="spacingAndGlyphs">APOL6</text>
<path d="M239.2 1231.4V1209.5H367.4V1231.4" fill="none" stroke="#000" stroke-width="5.8" stroke-linejoin="round"/>
<text x="266.4" y="1210.8" style="font-family:'Liberation Sans'" font-size="46" textLength="73.2" lengthAdjust="spacingAndGlyphs">****</text>
<path d="M480.2 1231.4V1209.5H598.2V1231.4" fill="none" stroke="#000" stroke-width="5.8" stroke-linejoin="round"/>
<text x="506.9" y="1210.8" style="font-family:'Liberation Sans'" font-size="46" textLength="71" lengthAdjust="spacingAndGlyphs">****</text>
<path d="M710.9 1231.4V1209.5H829.3V1231.4" fill="none" stroke="#000" stroke-width="5.8" stroke-linejoin="round"/>
<text x="739.6" y="1210.8" style="font-family:'Liberation Sans'" font-size="46" textLength="71.7" lengthAdjust="spacingAndGlyphs">****</text>
<path d="M948.3 1231.4V1209.5H1066.7V1231.4" fill="none" stroke="#000" stroke-width="5.8" stroke-linejoin="round"/>
<text x="970.3" y="1210.8" style="font-family:'Liberation Sans'" font-size="46" textLength="72" lengthAdjust="spacingAndGlyphs">****</text>
<path d="M1173.4 1231.4V1209.5H1291.5V1231.4" fill="none" stroke="#000" stroke-width="5.8" stroke-linejoin="round"/>
<text x="1198.6" y="1210.8" style="font-family:'Liberation Sans'" font-size="46" textLength="71.8" lengthAdjust="spacingAndGlyphs">****</text>
<g fill="none" stroke="#00C000" stroke-width="2.8"><circle cx="245.3" cy="1466.8" r="9.9"/><circle cx="235" cy="1458" r="9.9"/><circle cx="256" cy="1458" r="9.9"/><circle cx="214" cy="1436" r="9.9"/><circle cx="282" cy="1436" r="9.9"/><circle cx="223.2" cy="1440.5" r="9.9"/><circle cx="230.8" cy="1438.6" r="9.9"/><circle cx="236.8" cy="1441.7" r="9.9"/><circle cx="242.8" cy="1441.2" r="9.9"/><circle cx="248" cy="1438.5" r="9.9"/><circle cx="255.9" cy="1439.9" r="9.9"/><circle cx="266.5" cy="1441.6" r="9.9"/><circle cx="273" cy="1438.6" r="9.9"/><circle cx="229.9" cy="1449.3" r="9.9"/><circle cx="237.9" cy="1446.8" r="9.9"/><circle cx="245.9" cy="1447.4" r="9.9"/><circle cx="252.5" cy="1448.8" r="9.9"/><circle cx="259.2" cy="1448.1" r="9.9"/><circle cx="265.2" cy="1449.2" r="9.9"/><circle cx="236.8" cy="1457.1" r="9.9"/><circle cx="242.2" cy="1457" r="9.9"/><circle cx="250.4" cy="1456.4" r="9.9"/><circle cx="258.6" cy="1457.1" r="9.9"/></g><polygon points="223.9,1432.7 273,1432.7 273.6,1432.4 260.4,1422.4 270.4,1408.4 270.4,1398.6 268.2,1397.3 229.5,1397.3 226.7,1398.8 226.7,1407.7 239.8,1422.2" fill="#00C000" stroke="#00C000" stroke-width="18.2" stroke-linejoin="round"/><g fill="#00C000"><circle cx="223.9" cy="1432.7" r="11.3"/><circle cx="235.5" cy="1432.7" r="11.3"/><circle cx="247" cy="1432.7" r="11.3"/><circle cx="258.6" cy="1432.7" r="11.3"/><circle cx="270.2" cy="1432.7" r="11.3"/><circle cx="267.2" cy="1427.5" r="11.3"/><circle cx="262.3" cy="1419.8" r="11.3"/><circle cx="269" cy="1410.4" r="11.3"/><circle cx="270.4" cy="1399.3" r="11.3"/><circle cx="259.9" cy="1397.3" r="11.3"/><circle cx="248.3" cy="1397.3" r="11.3"/><circle cx="236.7" cy="1397.3" r="11.3"/><circle cx="226.7" cy="1400" r="11.3"/><circle cx="229.3" cy="1410.5" r="11.3"/><circle cx="237" cy="1419.2" r="11.3"/><circle cx="233.5" cy="1426.3" r="11.3"/></g><g fill="#00C000"><circle cx="229.1" cy="1374" r="12"/><circle cx="267.9" cy="1374" r="12"/><circle cx="230" cy="1382" r="12"/><circle cx="266" cy="1382" r="12"/></g>
<path d="M248.2 1381.8V1428.8M229.2 1381.8H267.2M229.2 1428.8H267.2M210.2 1405.3H286.2" stroke="#000" stroke-width="5.8" fill="none"/>
<g fill="none" stroke="#AC04E0" stroke-width="2.8"><circle cx="364.2" cy="1271" r="9.9"/><circle cx="379.6" cy="1280.7" r="9.9"/><circle cx="337.5" cy="1293.7" r="9.9"/><circle cx="348.8" cy="1290.4" r="9.9"/><circle cx="392.5" cy="1293.7" r="9.9"/><circle cx="382.8" cy="1292" r="9.9"/><circle cx="360" cy="1292" r="9.9"/><circle cx="370" cy="1294" r="9.9"/><circle cx="338.8" cy="1297.1" r="9.9"/><circle cx="342.1" cy="1295.9" r="9.9"/><circle cx="346.7" cy="1295.7" r="9.9"/><circle cx="357.1" cy="1294.2" r="9.9"/><circle cx="360.8" cy="1296.9" r="9.9"/><circle cx="366.6" cy="1294.2" r="9.9"/><circle cx="371" cy="1297.8" r="9.9"/><circle cx="376.8" cy="1298" r="9.9"/><circle cx="381.5" cy="1294.8" r="9.9"/><circle cx="385.4" cy="1297.8" r="9.9"/><circle cx="389.4" cy="1297.2" r="9.9"/><circle cx="337.8" cy="1303.4" r="9.9"/><circle cx="344.7" cy="1301.5" r="9.9"/><circle cx="347.2" cy="1302.4" r="9.9"/><circle cx="351.7" cy="1301.4" r="9.9"/><circle cx="356.3" cy="1300.5" r="9.9"/><circle cx="360.3" cy="1304.1" r="9.9"/><circle cx="366.4" cy="1301" r="9.9"/><circle cx="368.8" cy="1302.5" r="9.9"/><circle cx="373.7" cy="1303.9" r="9.9"/><circle cx="378.6" cy="1303.9" r="9.9"/><circle cx="383.9" cy="1302.9" r="9.9"/><circle cx="387.8" cy="1301.4" r="9.9"/><circle cx="390.4" cy="1301.8" r="9.9"/></g><polygon points="338.8,1313.3 338.3,1333.1 344.4,1349.7 353.1,1362.1 364.2,1367.4 375.6,1361.9 385.6,1349.5 390.9,1333.2 390.9,1313.3" fill="#AC04E0" stroke="#AC04E0" stroke-width="18.2" stroke-linejoin="round"/><g fill="#AC04E0"><circle cx="338.8" cy="1313.3" r="11.3"/><circle cx="338.5" cy="1325.5" r="11.3"/><circle cx="339.9" cy="1337.4" r="11.3"/><circle cx="344.1" cy="1348.8" r="11.3"/><circle cx="350.9" cy="1358.9" r="11.3"/><circle cx="360.6" cy="1365.7" r="11.3"/><circle cx="371.5" cy="1363.9" r="11.3"/><circle cx="380.4" cy="1356" r="11.3"/><circle cx="386.8" cy="1345.8" r="11.3"/><circle cx="390.6" cy="1334.2" r="11.3"/><circle cx="390.9" cy="1322.1" r="11.3"/><circle cx="387.5" cy="1313.3" r="11.3"/><circle cx="375.4" cy="1313.3" r="11.3"/><circle cx="363.2" cy="1313.3" r="11.3"/><circle cx="351" cy="1313.3" r="11.3"/></g><g fill="#AC04E0"><circle cx="364.2" cy="1374.6" r="11.3"/></g>
<path d="M364.2 1321.2V1368.9M345.2 1321.2H383.2M345.2 1368.9H383.2M326.2 1344.6H402.2" stroke="#000" stroke-width="5.8" fill="none"/>
<g fill="none" stroke="#00C000" stroke-width="2.8"><circle cx="480.1" cy="1435.9" r="9.9"/></g><polygon points="452.6,1405.1 452.6,1406.1 459.9,1409.9 470.5,1416.5 491.1,1416.5 500.1,1410 507.7,1406.1 507.7,1405.1" fill="#00C000" stroke="#00C000" stroke-width="18.2" stroke-linejoin="round"/><g fill="#00C000"><circle cx="452.6" cy="1405.1" r="11.3"/><circle cx="462.1" cy="1411.2" r="11.3"/><circle cx="472.4" cy="1416.5" r="11.3"/><circle cx="484.2" cy="1416.5" r="11.3"/><circle cx="495.1" cy="1413.6" r="11.3"/><circle cx="505.1" cy="1407.5" r="11.3"/><circle cx="499.8" cy="1405.1" r="11.3"/><circle cx="488" cy="1405.1" r="11.3"/><circle cx="476.2" cy="1405.1" r="11.3"/><circle cx="464.4" cy="1405.1" r="11.3"/></g><g fill="#00C000"><circle cx="459.1" cy="1390" r="12"/><circle cx="501.2" cy="1390" r="12"/><circle cx="480.1" cy="1430" r="11.3"/></g>
<path d="M480.1 1393.8V1411.6M461.1 1393.8H499.1M461.1 1411.6H499.1M442.1 1402.7H518.1" stroke="#000" stroke-width="5.8" fill="none"/>
<g fill="none" stroke="#AC04E0" stroke-width="2.8"><circle cx="595.8" cy="1318.6" r="9.9"/><circle cx="572.4" cy="1334.8" r="9.9"/><circle cx="620.9" cy="1330.7" r="9.9"/><circle cx="575.6" cy="1345.3" r="9.9"/><circle cx="616" cy="1343.7" r="9.9"/><circle cx="585.3" cy="1348.5" r="9.9"/><circle cx="606.3" cy="1346.9" r="9.9"/><circle cx="595.8" cy="1350" r="9.9"/></g><polygon points="569.8,1369.3 572.6,1373.1 581.8,1381 595.8,1387.5 610.2,1380.8 620.7,1373 623.2,1369.3" fill="#AC04E0" stroke="#AC04E0" stroke-width="18.2" stroke-linejoin="round"/><g fill="#AC04E0"><circle cx="569.8" cy="1369.3" r="11.3"/><circle cx="578" cy="1377.8" r="11.3"/><circle cx="588.1" cy="1384" r="11.3"/><circle cx="598.9" cy="1386.1" r="11.3"/><circle cx="609.7" cy="1381.1" r="11.3"/><circle cx="619.3" cy="1374" r="11.3"/><circle cx="617.4" cy="1369.3" r="11.3"/><circle cx="605.5" cy="1369.3" r="11.3"/><circle cx="593.6" cy="1369.3" r="11.3"/><circle cx="581.7" cy="1369.3" r="11.3"/></g><g fill="#AC04E0"><circle cx="572.4" cy="1364" r="13"/><circle cx="620.9" cy="1364" r="13"/><circle cx="595.8" cy="1394" r="11.3"/></g>
<path d="M595.8 1360.7V1387.4M576.8 1360.7H614.8M576.8 1387.4H614.8M557.8 1373.6H633.8" stroke="#000" stroke-width="5.8" fill="none"/>
<g fill="none" stroke="#00C000" stroke-width="2.8"><circle cx="686.5" cy="1422.4" r="9.9"/><circle cx="695.3" cy="1424.1" r="9.9"/><circle cx="697.1" cy="1431.2" r="9.9"/><circle cx="727.1" cy="1419.7" r="9.9"/><circle cx="736.8" cy="1420.6" r="9.9"/><circle cx="721.8" cy="1429.4" r="9.9"/><circle cx="706.8" cy="1449.7" r="9.9"/><circle cx="716.5" cy="1445.3" r="9.9"/><circle cx="712.1" cy="1448" r="9.9"/><circle cx="705" cy="1432" r="9.9"/><circle cx="730" cy="1425" r="9.9"/></g><polygon points="691.1,1347.9 692,1349.9 708.5,1374.3 685.1,1382.5 685.6,1390.9 689.9,1396.7 698.8,1402.5 712.2,1407.9 726.5,1403 731,1397.5 738,1390.2 738.3,1382.4 715.9,1374.1 732,1350 732.7,1348.1 731.5,1347.6 711.9,1350.4 691.6,1347.6" fill="#00C000" stroke="#00C000" stroke-width="18.2" stroke-linejoin="round"/><g fill="#00C000"><circle cx="691.1" cy="1347.9" r="11.3"/><circle cx="697.3" cy="1357.8" r="11.3"/><circle cx="703.8" cy="1367.5" r="11.3"/><circle cx="705.2" cy="1375.5" r="11.3"/><circle cx="694.1" cy="1379.3" r="11.3"/><circle cx="685.2" cy="1384.6" r="11.3"/><circle cx="688.9" cy="1395.3" r="11.3"/><circle cx="698.2" cy="1402.2" r="11.3"/><circle cx="709.1" cy="1406.7" r="11.3"/><circle cx="720.1" cy="1405.2" r="11.3"/><circle cx="729.6" cy="1399.1" r="11.3"/><circle cx="737.6" cy="1390.6" r="11.3"/><circle cx="735.2" cy="1381.3" r="11.3"/><circle cx="724.2" cy="1377.2" r="11.3"/><circle cx="717.4" cy="1371.8" r="11.3"/><circle cx="723.9" cy="1362" r="11.3"/><circle cx="730.4" cy="1352.3" r="11.3"/><circle cx="725.9" cy="1348.4" r="11.3"/><circle cx="714.3" cy="1350.1" r="11.3"/><circle cx="702.7" cy="1349.1" r="11.3"/></g><g fill="#00C000"><circle cx="687" cy="1346" r="11"/><circle cx="737" cy="1346" r="11"/></g>
<path d="M711.9 1354V1400.3M692.9 1354H730.9M692.9 1400.3H730.9M673.9 1376.9H749.9" stroke="#000" stroke-width="5.8" fill="none"/>
<g fill="none" stroke="#AC04E0" stroke-width="2.8"><circle cx="851.8" cy="1219.4" r="9.9"/><circle cx="803.9" cy="1231.4" r="9.9"/><circle cx="809.9" cy="1232.9" r="9.9"/><circle cx="815.2" cy="1233.7" r="9.9"/><circle cx="845" cy="1233.7" r="9.9"/><circle cx="850.3" cy="1235.2" r="9.9"/><circle cx="804.7" cy="1248.6" r="9.9"/><circle cx="851" cy="1248.6" r="9.9"/><circle cx="820" cy="1240" r="9.9"/><circle cx="835" cy="1242" r="9.9"/><circle cx="801.1" cy="1239" r="9.9"/><circle cx="811.6" cy="1238.6" r="9.9"/><circle cx="817.2" cy="1238.7" r="9.9"/><circle cx="820.5" cy="1236.1" r="9.9"/><circle cx="826.7" cy="1237.7" r="9.9"/><circle cx="832.1" cy="1236.5" r="9.9"/><circle cx="836.2" cy="1236.1" r="9.9"/><circle cx="844.4" cy="1237.4" r="9.9"/><circle cx="850.2" cy="1238.4" r="9.9"/><circle cx="854.2" cy="1237.9" r="9.9"/><circle cx="800.2" cy="1243" r="9.9"/><circle cx="809.7" cy="1245.5" r="9.9"/><circle cx="812.7" cy="1242.4" r="9.9"/><circle cx="818" cy="1243.8" r="9.9"/><circle cx="822.2" cy="1246.1" r="9.9"/><circle cx="826.2" cy="1246" r="9.9"/><circle cx="835.6" cy="1243.3" r="9.9"/><circle cx="843.7" cy="1244.6" r="9.9"/><circle cx="848.5" cy="1243.2" r="9.9"/><circle cx="855" cy="1244.9" r="9.9"/></g><polygon points="801.8,1259.3 801,1260.8 801,1264.6 803.3,1273.6 803.3,1295 805.7,1301.4 809.9,1315.5 815.9,1327.4 827.6,1337.1 838.2,1327.6 844.3,1315.5 848.7,1301 851.7,1294.5 851.7,1273.2 854.7,1264.2 854.7,1261.1 853.6,1259.3" fill="#AC04E0" stroke="#AC04E0" stroke-width="18.2" stroke-linejoin="round"/><g fill="#AC04E0"><circle cx="801.8" cy="1259.3" r="11.3"/><circle cx="802.6" cy="1270.7" r="11.3"/><circle cx="803.3" cy="1282.4" r="11.3"/><circle cx="803.3" cy="1294.2" r="11.3"/><circle cx="806.9" cy="1305.4" r="11.3"/><circle cx="810.5" cy="1316.6" r="11.3"/><circle cx="815.8" cy="1327.1" r="11.3"/><circle cx="824.8" cy="1334.7" r="11.3"/><circle cx="833.7" cy="1331.7" r="11.3"/><circle cx="840.7" cy="1322.5" r="11.3"/><circle cx="845.4" cy="1311.7" r="11.3"/><circle cx="848.9" cy="1300.5" r="11.3"/><circle cx="851.7" cy="1289.3" r="11.3"/><circle cx="851.7" cy="1277.5" r="11.3"/><circle cx="854.1" cy="1266.1" r="11.3"/><circle cx="849" cy="1259.3" r="11.3"/><circle cx="837.2" cy="1259.3" r="11.3"/><circle cx="825.4" cy="1259.3" r="11.3"/><circle cx="813.6" cy="1259.3" r="11.3"/></g><g fill="#AC04E0"><circle cx="827.9" cy="1345" r="11.3"/></g>
<path d="M827.9 1271.4V1337.2M808.9 1271.4H846.9M808.9 1337.2H846.9M789.9 1304H865.9" stroke="#000" stroke-width="5.8" fill="none"/>
<polygon points="919.9,1467.4 924.4,1469.6 933.2,1472.7 937.5,1472.7 931.1,1469.7 920.9,1466.9" fill="#00C000" stroke="#00C000" stroke-width="18.2" stroke-linejoin="round"/><g fill="#00C000"><circle cx="919.9" cy="1467.4" r="11.3"/><circle cx="931.4" cy="1472.1" r="11.3"/><circle cx="931.8" cy="1470" r="11.3"/></g><polygon points="949.3,1472.7 954.1,1472.7 961.5,1469.6 966.6,1467.4 965.4,1466.9 956,1469.6" fill="#00C000" stroke="#00C000" stroke-width="18.2" stroke-linejoin="round"/><g fill="#00C000"><circle cx="949.3" cy="1472.7" r="11.3"/><circle cx="961" cy="1469.8" r="11.3"/><circle cx="960.7" cy="1468.3" r="11.3"/></g><g fill="#00C000"><circle cx="920.7" cy="1467" r="12.5"/><circle cx="966" cy="1467" r="12.5"/><circle cx="943.4" cy="1486" r="11.3"/></g>
<path d="M943.4 1466.7V1474M924.4 1466.7H962.4M924.4 1474H962.4M905.4 1470.4H981.4" stroke="#000" stroke-width="5.8" fill="none"/>
<g fill="none" stroke="#AC04E0" stroke-width="2.8"><circle cx="1043.7" cy="1424.3" r="9.9"/><circle cx="1074.4" cy="1424.3" r="9.9"/><circle cx="1050.2" cy="1432.4" r="9.9"/><circle cx="1066.3" cy="1430.7" r="9.9"/><circle cx="1037.2" cy="1437.2" r="9.9"/><circle cx="1080.9" cy="1437.2" r="9.9"/></g><polygon points="1034.4,1457.3 1039.9,1460.6 1059.9,1465.4 1079.7,1460.6 1085,1457.3" fill="#AC04E0" stroke="#AC04E0" stroke-width="18.2" stroke-linejoin="round"/><g fill="#AC04E0"><circle cx="1034.4" cy="1457.3" r="11.3"/><circle cx="1044.9" cy="1461.8" r="11.3"/><circle cx="1056.2" cy="1464.5" r="11.3"/><circle cx="1067.4" cy="1463.6" r="11.3"/><circle cx="1078.7" cy="1460.9" r="11.3"/><circle cx="1080.7" cy="1457.3" r="11.3"/><circle cx="1069.1" cy="1457.3" r="11.3"/><circle cx="1057.5" cy="1457.3" r="11.3"/><circle cx="1045.9" cy="1457.3" r="11.3"/></g><g fill="#AC04E0"><circle cx="1038.8" cy="1441" r="11"/><circle cx="1080.9" cy="1441" r="11"/><circle cx="1059.9" cy="1468" r="11.3"/></g><g fill="#fff"><circle cx="1060" cy="1443" r="4"/></g>
<path d="M1059.9 1448.5V1464.7M1040.9 1448.5H1078.9M1040.9 1464.7H1078.9M1021.9 1456.6H1097.9" stroke="#000" stroke-width="5.8" fill="none"/>
<g fill="none" stroke="#00C000" stroke-width="2.8"><circle cx="1175" cy="1449.3" r="9.9"/><circle cx="1168" cy="1444" r="9.9"/><circle cx="1182" cy="1444" r="9.9"/><circle cx="1150" cy="1422" r="9.9"/><circle cx="1200" cy="1422" r="9.9"/><circle cx="1159.6" cy="1431.2" r="9.9"/><circle cx="1174" cy="1432.9" r="9.9"/><circle cx="1185.9" cy="1431.9" r="9.9"/><circle cx="1190" cy="1430.9" r="9.9"/><circle cx="1163" cy="1438.7" r="9.9"/><circle cx="1170.2" cy="1440.7" r="9.9"/><circle cx="1176.5" cy="1439.6" r="9.9"/><circle cx="1186.8" cy="1439.4" r="9.9"/></g><polygon points="1154.2,1420.6 1160.5,1424.7 1188.1,1424.7 1195.5,1420.3 1189.6,1415 1189.6,1386.3 1187.6,1386.8 1175,1392.4 1162.4,1386.8 1160.4,1386.3 1160.4,1415" fill="#00C000" stroke="#00C000" stroke-width="18.2" stroke-linejoin="round"/><g fill="#00C000"><circle cx="1154.2" cy="1420.6" r="11.3"/><circle cx="1165.4" cy="1424.7" r="11.3"/><circle cx="1177.9" cy="1424.7" r="11.3"/><circle cx="1190" cy="1423.6" r="11.3"/><circle cx="1191" cy="1416.3" r="11.3"/><circle cx="1189.6" cy="1404.5" r="11.3"/><circle cx="1189.6" cy="1392.1" r="11.3"/><circle cx="1183.4" cy="1388.6" r="11.3"/><circle cx="1172.1" cy="1391.1" r="11.3"/><circle cx="1160.6" cy="1386.3" r="11.3"/><circle cx="1160.4" cy="1398.5" r="11.3"/><circle cx="1160.4" cy="1410.9" r="11.3"/></g><g fill="#00C000"><circle cx="1152.4" cy="1370" r="15"/><circle cx="1197.6" cy="1368.4" r="15"/></g>
<path d="M1175.1 1375.2V1412.9M1156.1 1375.2H1194.1M1156.1 1412.9H1194.1M1137.1 1394H1213.1" stroke="#000" stroke-width="5.8" fill="none"/>
<g fill="none" stroke="#AC04E0" stroke-width="2.8"><circle cx="1275.3" cy="1282.6" r="9.9"/><circle cx="1306" cy="1279.4" r="9.9"/><circle cx="1270.4" cy="1290.7" r="9.9"/><circle cx="1310.9" cy="1287.5" r="9.9"/><circle cx="1288.2" cy="1298.8" r="9.9"/><circle cx="1297.9" cy="1294" r="9.9"/></g><polygon points="1264.8,1331.3 1264.8,1351 1271.4,1355.4 1290.3,1365.4 1313.4,1355.2 1319,1351.2 1319,1331.3 1302.2,1331.3 1289.9,1336.2 1277.8,1331.3" fill="#AC04E0" stroke="#AC04E0" stroke-width="18.2" stroke-linejoin="round"/><g fill="#AC04E0"><circle cx="1264.8" cy="1331.3" r="11.3"/><circle cx="1264.8" cy="1343.4" r="11.3"/><circle cx="1268.5" cy="1353.5" r="11.3"/><circle cx="1279" cy="1359.4" r="11.3"/><circle cx="1289.7" cy="1365.1" r="11.3"/><circle cx="1300.8" cy="1360.8" r="11.3"/><circle cx="1311.8" cy="1355.9" r="11.3"/><circle cx="1319" cy="1347.8" r="11.3"/><circle cx="1319" cy="1335.7" r="11.3"/><circle cx="1311.3" cy="1331.3" r="11.3"/><circle cx="1299.4" cy="1332.4" r="11.3"/><circle cx="1288.2" cy="1335.5" r="11.3"/><circle cx="1276.9" cy="1331.3" r="11.3"/></g><g fill="#AC04E0"><circle cx="1268.8" cy="1312" r="14"/><circle cx="1312.5" cy="1310.2" r="14"/></g>
<path d="M1289.9 1323.1V1361.9M1270.9 1323.1H1308.9M1270.9 1361.9H1308.9M1251.9 1343H1327.9" stroke="#000" stroke-width="5.8" fill="none"/>
<line x1="210.8" y1="1682" x2="210.8" y2="2088.5" stroke="#000" stroke-width="5.8"/>
<line x1="207.9" y1="2085.6" x2="1352.5" y2="2085.6" stroke="#000" stroke-width="5.8"/>
<line x1="198.9" y1="1684.9" x2="210.8" y2="1684.9" stroke="#000" stroke-width="5.8"/>
<text x="194.3" y="1696.6" text-anchor="end" font-size="42">7</text>
<line x1="198.9" y1="1785.1" x2="210.8" y2="1785.1" stroke="#000" stroke-width="5.8"/>
<text x="193.3" y="1796.8" text-anchor="end" font-size="42">5</text>
<line x1="198.9" y1="1885.2" x2="210.8" y2="1885.2" stroke="#000" stroke-width="5.8"/>
<text x="193.3" y="1896.9" text-anchor="end" font-size="42">3</text>
<line x1="198.9" y1="1985.4" x2="210.8" y2="1985.4" stroke="#000" stroke-width="5.8"/>
<text x="194.3" y="1997.1" text-anchor="end" font-size="42">1</text>
<line x1="198.9" y1="2035.5" x2="210.8" y2="2035.5" stroke="#000" stroke-width="5.8"/>
<line x1="198.9" y1="2085.6" x2="210.8" y2="2085.6" stroke="#000" stroke-width="5.8"/>
<text x="194.2" y="2097.3" text-anchor="end" font-size="42">-1</text>
<line x1="271" y1="2069.6" x2="271" y2="2085.6" stroke="#000" stroke-width="5.8"/>
<line x1="363.6" y1="2069.6" x2="363.6" y2="2085.6" stroke="#000" stroke-width="5.8"/>
<line x1="456.1" y1="2069.6" x2="456.1" y2="2085.6" stroke="#000" stroke-width="5.8"/>
<line x1="548.6" y1="2069.6" x2="548.6" y2="2085.6" stroke="#000" stroke-width="5.8"/>
<line x1="641.2" y1="2069.6" x2="641.2" y2="2085.6" stroke="#000" stroke-width="5.8"/>
<line x1="733.8" y1="2069.6" x2="733.8" y2="2085.6" stroke="#000" stroke-width="5.8"/>
<line x1="826.3" y1="2069.6" x2="826.3" y2="2085.6" stroke="#000" stroke-width="5.8"/>
<line x1="918.9" y1="2069.6" x2="918.9" y2="2085.6" stroke="#000" stroke-width="5.8"/>
<line x1="1011.4" y1="2069.6" x2="1011.4" y2="2085.6" stroke="#000" stroke-width="5.8"/>
<line x1="1103.9" y1="2069.6" x2="1103.9" y2="2085.6" stroke="#000" stroke-width="5.8"/>
<line x1="1196.5" y1="2069.6" x2="1196.5" y2="2085.6" stroke="#000" stroke-width="5.8"/>
<line x1="1289" y1="2069.6" x2="1289" y2="2085.6" stroke="#000" stroke-width="5.8"/>
<text transform="translate(87.9,2111.3) rotate(-90)" x="-2.8" y="0" font-size="42" textLength="471.3" lengthAdjust="spacingAndGlyphs">Relative mRNA expression</text>
<circle cx="610.2" cy="1678.5" r="12.5" fill="none" stroke="#00C000" stroke-width="5"/>
<text x="646.5" y="1692.4" style="font-family:'Liberation Sans'" font-size="42" textLength="276.3" lengthAdjust="spacingAndGlyphs">Low expression</text>
<circle cx="959" cy="1681.7" r="11.5" fill="none" stroke="#AC04E0" stroke-width="5"/>
<text x="992.4" y="1694.1" style="font-family:'Liberation Sans'" font-size="42" textLength="286.5" lengthAdjust="spacingAndGlyphs">High expression</text>
<text x="262.7" y="2129.5" style="font-family:'Liberation Sans'" font-size="42" textLength="124.5" lengthAdjust="spacingAndGlyphs">APOL1</text>
<text x="445.4" y="2129.5" style="font-family:'Liberation Sans'" font-size="42" textLength="124.5" lengthAdjust="spacingAndGlyphs">APOL2</text>
<text x="632" y="2129.5" style="font-family:'Liberation Sans'" font-size="42" textLength="124.4" lengthAdjust="spacingAndGlyphs">APOL3</text>
<text x="817" y="2128.7" style="font-family:'Liberation Sans'" font-size="42" textLength="126" lengthAdjust="spacingAndGlyphs">APOL4</text>
<text x="1001.2" y="2129.9" style="font-family:'Liberation Sans'" font-size="42" textLength="124.4" lengthAdjust="spacingAndGlyphs">APOL5</text>
<text x="1186.3" y="2125.9" style="font-family:'Liberation Sans'" font-size="42" textLength="125.2" lengthAdjust="spacingAndGlyphs">APOL6</text>
<path d="M272.2 1789.5V1772.5H362.8V1789.5" fill="none" stroke="#000" stroke-width="5.8" stroke-linejoin="round"/>
<text x="282.9" y="1771.6" style="font-family:'Liberation Sans'" font-size="46" textLength="70.1" lengthAdjust="spacingAndGlyphs">****</text>
<path d="M458 1789.5V1771.1H548.3V1789.5" fill="none" stroke="#000" stroke-width="5.8" stroke-linejoin="round"/>
<text x="470.6" y="1777" style="font-family:'Liberation Sans'" font-size="46" textLength="70.1" lengthAdjust="spacingAndGlyphs">****</text>
<path d="M638.6 1789.5V1771.1H730V1789.5" fill="none" stroke="#000" stroke-width="5.8" stroke-linejoin="round"/>
<text x="651.2" y="1777.8" style="font-family:'Liberation Sans'" font-size="46" textLength="70.5" lengthAdjust="spacingAndGlyphs">****</text>
<path d="M823.6 1789.5V1769.8H915V1789.5" fill="none" stroke="#000" stroke-width="5.8" stroke-linejoin="round"/>
<text x="834.3" y="1773.8" style="font-family:'Liberation Sans'" font-size="46" textLength="69.6" lengthAdjust="spacingAndGlyphs">****</text>
<path d="M1013 1789.5V1771.7H1103.6V1789.5" fill="none" stroke="#000" stroke-width="5.8" stroke-linejoin="round"/>
<text x="1023.7" y="1771.6" style="font-family:'Liberation Sans'" font-size="46" textLength="70.8" lengthAdjust="spacingAndGlyphs">****</text>
<path d="M1198.9 1789.5V1770.3H1289.2V1789.5" fill="none" stroke="#000" stroke-width="5.8" stroke-linejoin="round"/>
<text x="1210.7" y="1772.4" style="font-family:'Liberation Sans'" font-size="46" textLength="70.9" lengthAdjust="spacingAndGlyphs">****</text>
<polygon points="251.9,1840.1 251.9,1858.3 254.2,1861.4 253.4,1870.9 257.2,1880.5 264.2,1890.4 271.4,1894.4 280.3,1890.3 285.9,1881.1 289.7,1870.2 290.5,1860.5 292.2,1858.3 292.2,1840.7 287.5,1839.5 271.1,1841.7 253.7,1839.5" fill="#00C000" stroke="#00C000" stroke-width="18.2" stroke-linejoin="round"/><g fill="#00C000"><circle cx="251.9" cy="1840.1" r="11.3"/><circle cx="251.9" cy="1851.9" r="11.3"/><circle cx="254.1" cy="1863" r="11.3"/><circle cx="254.8" cy="1874.5" r="11.3"/><circle cx="260.3" cy="1884.8" r="11.3"/><circle cx="268.6" cy="1892.8" r="11.3"/><circle cx="279.2" cy="1890.8" r="11.3"/><circle cx="285.8" cy="1881.3" r="11.3"/><circle cx="289.7" cy="1870.1" r="11.3"/><circle cx="291.8" cy="1858.8" r="11.3"/><circle cx="292.2" cy="1847.1" r="11.3"/><circle cx="286.9" cy="1839.6" r="11.3"/><circle cx="275.2" cy="1841.1" r="11.3"/><circle cx="263.5" cy="1840.8" r="11.3"/></g><g fill="#00C000"><circle cx="271" cy="1903.5" r="11.3"/></g>
<path d="M271.4 1840.9V1868M256.4 1840.9H286.4M256.4 1868H286.4M240.4 1854.8H302.4" stroke="#000" stroke-width="5.8" fill="none"/>
<g fill="none" stroke="#AC04E0" stroke-width="2.8"><circle cx="380.2" cy="1796.5" r="9.9"/><circle cx="346.5" cy="1802.5" r="9.9"/></g><polygon points="343.2,1823.3 343.2,1832.5 363.7,1834.8 384.1,1832.6 384.1,1823.3" fill="#AC04E0" stroke="#AC04E0" stroke-width="18.2" stroke-linejoin="round"/><g fill="#AC04E0"><circle cx="343.2" cy="1823.3" r="11.3"/><circle cx="346.5" cy="1832.9" r="11.3"/><circle cx="359" cy="1834.3" r="11.3"/><circle cx="371.5" cy="1834" r="11.3"/><circle cx="384" cy="1832.6" r="11.3"/><circle cx="380.9" cy="1823.3" r="11.3"/><circle cx="368.4" cy="1823.3" r="11.3"/><circle cx="355.8" cy="1823.3" r="11.3"/></g><g fill="#AC04E0"><circle cx="363.7" cy="1808.5" r="11.5"/><circle cx="345.1" cy="1812" r="11"/><circle cx="386.2" cy="1815" r="11"/><circle cx="375" cy="1813" r="10"/><circle cx="352" cy="1813" r="10"/></g><g fill="#fff"><circle cx="363.7" cy="1809.8" r="4.5"/></g>
<path d="M363.7 1820.4V1837.6M348.7 1820.4H378.7M348.7 1837.6H378.7M332.7 1829H394.7" stroke="#000" stroke-width="5.8" fill="none"/>
<polygon points="435.3,1862.8 435.3,1874.5 439.1,1876.7 446.9,1880.7 464.4,1880.7 471.8,1876.6 476.9,1874 476.9,1862.5 475.5,1861.9 456,1864.4 437.8,1861.9" fill="#00C000" stroke="#00C000" stroke-width="18.2" stroke-linejoin="round"/><g fill="#00C000"><circle cx="435.3" cy="1862.8" r="11.3"/><circle cx="435.8" cy="1874.8" r="11.3"/><circle cx="446.6" cy="1880.5" r="11.3"/><circle cx="458.8" cy="1880.7" r="11.3"/><circle cx="470.3" cy="1877.5" r="11.3"/><circle cx="476.9" cy="1869.3" r="11.3"/><circle cx="471.6" cy="1862.4" r="11.3"/><circle cx="459.4" cy="1864" r="11.3"/><circle cx="447.3" cy="1863.2" r="11.3"/></g><g fill="#00C000"><circle cx="456.1" cy="1897" r="11.3"/></g>
<path d="M456.1 1863.6V1878.9M441.1 1863.6H471.1M441.1 1878.9H471.1M425.1 1871.2H487.1" stroke="#000" stroke-width="5.8" fill="none"/>
<g fill="none" stroke="#AC04E0" stroke-width="2.8"><circle cx="565.1" cy="1821" r="9.9"/><circle cx="531.5" cy="1825.1" r="9.9"/></g><polygon points="528.2,1849.3 528.2,1855.9 529,1856.1 548.4,1861 569,1856.1 569.1,1856.1 569.1,1849.3" fill="#AC04E0" stroke="#AC04E0" stroke-width="18.2" stroke-linejoin="round"/><g fill="#AC04E0"><circle cx="528.2" cy="1849.3" r="11.3"/><circle cx="533.5" cy="1857.2" r="11.3"/><circle cx="545.2" cy="1860.2" r="11.3"/><circle cx="556.9" cy="1859" r="11.3"/><circle cx="568.6" cy="1856.2" r="11.3"/><circle cx="564.3" cy="1849.3" r="11.3"/><circle cx="552.3" cy="1849.3" r="11.3"/><circle cx="540.2" cy="1849.3" r="11.3"/></g><g fill="#AC04E0"><circle cx="548.3" cy="1830.5" r="12"/><circle cx="528.7" cy="1838" r="11.5"/><circle cx="572.1" cy="1838" r="11.5"/><circle cx="560" cy="1836" r="10"/><circle cx="537" cy="1836" r="10"/></g><g fill="#fff"><circle cx="549" cy="1834.2" r="4"/></g>
<path d="M548.3 1844.7V1860.1M533.3 1844.7H563.3M533.3 1860.1H563.3M517.3 1852.4H579.3" stroke="#000" stroke-width="5.8" fill="none"/>
<polygon points="620.3,1876.6 620.3,1903.4 627.7,1907.2 635.8,1918.5 640.4,1923.3 645.3,1918.1 655,1906.9 661.9,1903.4 661.9,1877 659,1876.4 640.4,1877.3 621.2,1876.4" fill="#00C000" stroke="#00C000" stroke-width="18.2" stroke-linejoin="round"/><g fill="#00C000"><circle cx="620.3" cy="1876.6" r="11.3"/><circle cx="620.3" cy="1888.4" r="11.3"/><circle cx="620.3" cy="1900.2" r="11.3"/><circle cx="627.9" cy="1907.5" r="11.3"/><circle cx="634.8" cy="1917" r="11.3"/><circle cx="642.7" cy="1920.8" r="11.3"/><circle cx="650.6" cy="1912" r="11.3"/><circle cx="659.5" cy="1904.6" r="11.3"/><circle cx="661.9" cy="1894.3" r="11.3"/><circle cx="661.9" cy="1882.5" r="11.3"/><circle cx="655.6" cy="1876.5" r="11.3"/><circle cx="643.9" cy="1877.1" r="11.3"/><circle cx="632.1" cy="1876.9" r="11.3"/></g><g fill="#00C000"><circle cx="640.4" cy="1929.5" r="11.3"/></g>
<path d="M640.4 1879.6V1902M625.4 1879.6H655.4M625.4 1902H655.4M609.4 1890.8H671.4" stroke="#000" stroke-width="5.8" fill="none"/>
<polygon points="713.9,1839.3 713.9,1863.8 720.6,1868.3 733.5,1874.2 747.5,1868.2 754.1,1863.8 754.1,1839.3" fill="#AC04E0" stroke="#AC04E0" stroke-width="18.2" stroke-linejoin="round"/><g fill="#AC04E0"><circle cx="713.9" cy="1839.3" r="11.3"/><circle cx="713.9" cy="1851.5" r="11.3"/><circle cx="713.9" cy="1863.8" r="11.3"/><circle cx="724.4" cy="1870" r="11.3"/><circle cx="735.5" cy="1873.4" r="11.3"/><circle cx="746.8" cy="1868.5" r="11.3"/><circle cx="754.1" cy="1860.3" r="11.3"/><circle cx="754.1" cy="1848.1" r="11.3"/><circle cx="750.6" cy="1839.3" r="11.3"/><circle cx="738.4" cy="1839.3" r="11.3"/><circle cx="726.1" cy="1839.3" r="11.3"/></g><g fill="#AC04E0"><circle cx="719.3" cy="1822" r="12"/><circle cx="747.3" cy="1822" r="12"/><circle cx="733.3" cy="1876" r="11.3"/></g>
<path d="M733.3 1844.7V1870.5M718.3 1844.7H748.3M718.3 1870.5H748.3M702.3 1857.3H764.3" stroke="#000" stroke-width="5.8" fill="none"/>
<g fill="none" stroke="#00C000" stroke-width="2.8"><circle cx="808" cy="1980.3" r="9.9"/><circle cx="847" cy="1977.5" r="9.9"/><circle cx="816.3" cy="1991.5" r="9.9"/><circle cx="828.9" cy="1995.7" r="9.9"/><circle cx="821.9" cy="1999.9" r="9.9"/><circle cx="822.6" cy="2008.2" r="9.9"/><circle cx="835" cy="1998" r="9.9"/></g><polygon points="805.3,1948.3 805.3,1975.2 808.6,1981.6 812.2,1984.7 835.9,1984.7 844.2,1980.3 846.9,1975.2 846.9,1948.3" fill="#00C000" stroke="#00C000" stroke-width="18.2" stroke-linejoin="round"/><g fill="#00C000"><circle cx="805.3" cy="1948.3" r="11.3"/><circle cx="805.3" cy="1960.5" r="11.3"/><circle cx="805.3" cy="1972.7" r="11.3"/><circle cx="810.5" cy="1983.2" r="11.3"/><circle cx="822.1" cy="1984.7" r="11.3"/><circle cx="834.3" cy="1984.7" r="11.3"/><circle cx="844.8" cy="1979.3" r="11.3"/><circle cx="846.9" cy="1967.6" r="11.3"/><circle cx="846.9" cy="1955.4" r="11.3"/><circle cx="841.9" cy="1948.3" r="11.3"/><circle cx="829.7" cy="1948.3" r="11.3"/><circle cx="817.5" cy="1948.3" r="11.3"/></g><g fill="#00C000"><circle cx="807.9" cy="1933" r="12"/><circle cx="844.3" cy="1933" r="12"/></g>
<path d="M825.4 1937V1964.2M810.4 1937H840.4M810.4 1964.2H840.4M794.4 1950.3H856.4" stroke="#000" stroke-width="5.8" fill="none"/>
<g fill="none" stroke="#AC04E0" stroke-width="2.8"><circle cx="902.2" cy="1851.8" r="9.9"/><circle cx="900.1" cy="1874.1" r="9.9"/><circle cx="918.3" cy="1869.9" r="9.9"/><circle cx="932.3" cy="1871.3" r="9.9"/><circle cx="943.4" cy="1871.3" r="9.9"/><circle cx="937.9" cy="1872.7" r="9.9"/><circle cx="910" cy="1872" r="9.9"/><circle cx="899.4" cy="1876.9" r="9.9"/><circle cx="901.4" cy="1877" r="9.9"/><circle cx="908.1" cy="1879.8" r="9.9"/><circle cx="912.1" cy="1879.5" r="9.9"/><circle cx="916.9" cy="1879.6" r="9.9"/><circle cx="923" cy="1878.7" r="9.9"/><circle cx="927.5" cy="1879.4" r="9.9"/><circle cx="933.4" cy="1877.7" r="9.9"/><circle cx="938.5" cy="1877.2" r="9.9"/><circle cx="896" cy="1886" r="9.9"/><circle cx="899.3" cy="1882.8" r="9.9"/><circle cx="904.3" cy="1882.9" r="9.9"/><circle cx="917.8" cy="1885.2" r="9.9"/><circle cx="920.7" cy="1884.7" r="9.9"/><circle cx="926.7" cy="1885.6" r="9.9"/><circle cx="929.2" cy="1885.8" r="9.9"/><circle cx="935.6" cy="1882.8" r="9.9"/><circle cx="938.6" cy="1882.5" r="9.9"/></g><polygon points="900.2,1895.3 897.5,1898.8 897.5,1928.3 902.2,1930.4 918.3,1933.8 934.4,1930.4 939.1,1928.3 939.1,1898.3 937.2,1895.3" fill="#AC04E0" stroke="#AC04E0" stroke-width="18.2" stroke-linejoin="round"/><g fill="#AC04E0"><circle cx="900.2" cy="1895.3" r="11.3"/><circle cx="897.5" cy="1906.7" r="11.3"/><circle cx="897.5" cy="1919" r="11.3"/><circle cx="900.3" cy="1929.5" r="11.3"/><circle cx="912.2" cy="1932.5" r="11.3"/><circle cx="924.2" cy="1932.6" r="11.3"/><circle cx="936.1" cy="1929.6" r="11.3"/><circle cx="939.1" cy="1919.3" r="11.3"/><circle cx="939.1" cy="1907" r="11.3"/><circle cx="937.1" cy="1895.3" r="11.3"/><circle cx="924.8" cy="1895.3" r="11.3"/><circle cx="912.5" cy="1895.3" r="11.3"/></g>
<path d="M918.3 1903.5V1931.4M903.3 1903.5H933.3M903.3 1931.4H933.3M887.3 1917.4H949.3" stroke="#000" stroke-width="5.8" fill="none"/>
<polygon points="990.2,2001.3 990.2,2035.1 995.6,2037.6 1001.8,2040.7 1019.4,2040.7 1027.9,2037.5 1031.8,2035.4 1031.8,2001.3" fill="#00C000" stroke="#00C000" stroke-width="18.2" stroke-linejoin="round"/><g fill="#00C000"><circle cx="990.2" cy="2001.3" r="11.3"/><circle cx="990.2" cy="2013.1" r="11.3"/><circle cx="990.2" cy="2024.9" r="11.3"/><circle cx="991.7" cy="2035.8" r="11.3"/><circle cx="1002.4" cy="2040.7" r="11.3"/><circle cx="1014.2" cy="2040.7" r="11.3"/><circle cx="1025.6" cy="2038.4" r="11.3"/><circle cx="1031.8" cy="2030.5" r="11.3"/><circle cx="1031.8" cy="2018.7" r="11.3"/><circle cx="1031.8" cy="2006.9" r="11.3"/><circle cx="1025.6" cy="2001.3" r="11.3"/><circle cx="1013.8" cy="2001.3" r="11.3"/><circle cx="1002" cy="2001.3" r="11.3"/></g><g fill="#00C000"><circle cx="997.7" cy="1996" r="11.5"/><circle cx="1022.9" cy="1996" r="11.5"/><circle cx="1010.3" cy="2053" r="11.3"/></g><g fill="#fff"><circle cx="1003.3" cy="1994.7" r="3"/><circle cx="1017.3" cy="1994.7" r="3"/></g>
<path d="M1010.3 2004.5V2033.1M995.3 2004.5H1025.3M995.3 2033.1H1025.3M979.3 2018.7H1041.3" stroke="#000" stroke-width="5.8" fill="none"/>
<g fill="none" stroke="#AC04E0" stroke-width="2.8"><circle cx="1082.9" cy="1878.7" r="9.9"/><circle cx="1085.7" cy="1884.3" r="9.9"/><circle cx="1088.5" cy="1889.9" r="9.9"/><circle cx="1123.5" cy="1884.3" r="9.9"/><circle cx="1122.1" cy="1888.5" r="9.9"/><circle cx="1124.8" cy="1892.7" r="9.9"/><circle cx="1077.5" cy="1894.3" r="9.9"/><circle cx="1082.6" cy="1891.4" r="9.9"/><circle cx="1091.8" cy="1892.3" r="9.9"/><circle cx="1096.1" cy="1892" r="9.9"/><circle cx="1102.5" cy="1892.5" r="9.9"/><circle cx="1107.8" cy="1893" r="9.9"/><circle cx="1111.7" cy="1891.1" r="9.9"/><circle cx="1116" cy="1894.1" r="9.9"/><circle cx="1121.4" cy="1893.2" r="9.9"/><circle cx="1126.5" cy="1891.4" r="9.9"/><circle cx="1128.4" cy="1891" r="9.9"/><circle cx="1078.3" cy="1897.4" r="9.9"/><circle cx="1080.6" cy="1900.6" r="9.9"/><circle cx="1085" cy="1898.8" r="9.9"/><circle cx="1088.8" cy="1901.1" r="9.9"/><circle cx="1093" cy="1900.2" r="9.9"/><circle cx="1097.1" cy="1899.9" r="9.9"/><circle cx="1107.1" cy="1900.5" r="9.9"/><circle cx="1110.6" cy="1899" r="9.9"/><circle cx="1116.3" cy="1897.7" r="9.9"/><circle cx="1118.5" cy="1898.2" r="9.9"/><circle cx="1125" cy="1899.4" r="9.9"/><circle cx="1130.1" cy="1898.3" r="9.9"/></g><polygon points="1082.4,1915.3 1082.4,1975.7 1086.5,1979.5 1095.6,1988.6 1103.2,1993.3 1110.8,1988.6 1119.8,1979.5 1124,1975.7 1124,1915.3" fill="#AC04E0" stroke="#AC04E0" stroke-width="18.2" stroke-linejoin="round"/><g fill="#AC04E0"><circle cx="1082.4" cy="1915.3" r="11.3"/><circle cx="1082.4" cy="1927.4" r="11.3"/><circle cx="1082.4" cy="1939.4" r="11.3"/><circle cx="1082.4" cy="1951.5" r="11.3"/><circle cx="1082.4" cy="1963.6" r="11.3"/><circle cx="1082.4" cy="1975.6" r="11.3"/><circle cx="1091" cy="1984" r="11.3"/><circle cx="1100.4" cy="1991.6" r="11.3"/><circle cx="1110.6" cy="1988.7" r="11.3"/><circle cx="1119.1" cy="1980.2" r="11.3"/><circle cx="1124" cy="1970.2" r="11.3"/><circle cx="1124" cy="1958.2" r="11.3"/><circle cx="1124" cy="1946.1" r="11.3"/><circle cx="1124" cy="1934" r="11.3"/><circle cx="1124" cy="1922" r="11.3"/><circle cx="1118.6" cy="1915.3" r="11.3"/><circle cx="1106.5" cy="1915.3" r="11.3"/><circle cx="1094.5" cy="1915.3" r="11.3"/></g>
<path d="M1103.2 1926.2V1985.6M1088.2 1926.2H1118.2M1088.2 1985.6H1118.2M1072.2 1955.9H1134.2" stroke="#000" stroke-width="5.8" fill="none"/>
<g fill="none" stroke="#00C000" stroke-width="2.8"><circle cx="1177.9" cy="1897" r="9.9"/><circle cx="1212.2" cy="1901.2" r="9.9"/><circle cx="1195.4" cy="1924.9" r="9.9"/></g><polygon points="1175.3,1863.3 1175.3,1868.5 1180.4,1873.6 1190.8,1884.1 1195.7,1887.6 1200.9,1884.4 1209,1873.5 1216.9,1867.6 1216.9,1863.3" fill="#00C000" stroke="#00C000" stroke-width="18.2" stroke-linejoin="round"/><g fill="#00C000"><circle cx="1175.3" cy="1863.3" r="11.3"/><circle cx="1180.1" cy="1873.4" r="11.3"/><circle cx="1188.6" cy="1881.9" r="11.3"/><circle cx="1198.2" cy="1886" r="11.3"/><circle cx="1206.3" cy="1877.2" r="11.3"/><circle cx="1215" cy="1869" r="11.3"/><circle cx="1211.5" cy="1863.3" r="11.3"/><circle cx="1199.4" cy="1863.3" r="11.3"/><circle cx="1187.4" cy="1863.3" r="11.3"/></g><g fill="#00C000"><circle cx="1177.9" cy="1853" r="11"/><circle cx="1214.3" cy="1853" r="11"/></g>
<path d="M1195.4 1856.5V1878.8M1180.4 1856.5H1210.4M1180.4 1878.8H1210.4M1164.4 1867H1226.4" stroke="#000" stroke-width="5.8" fill="none"/>
<g fill="none" stroke="#AC04E0" stroke-width="2.8"><circle cx="1272.9" cy="1817.4" r="9.9"/><circle cx="1312.1" cy="1818.7" r="9.9"/><circle cx="1293.9" cy="1820.1" r="9.9"/><circle cx="1284.1" cy="1824.3" r="9.9"/><circle cx="1288.3" cy="1825.7" r="9.9"/></g><polygon points="1268.2,1836.3 1268.2,1848.8 1271,1850 1287.7,1854.5 1306,1849.9 1309.8,1848.5 1309.8,1836.3" fill="#AC04E0" stroke="#AC04E0" stroke-width="18.2" stroke-linejoin="round"/><g fill="#AC04E0"><circle cx="1268.2" cy="1836.3" r="11.3"/><circle cx="1268.2" cy="1848.5" r="11.3"/><circle cx="1279.5" cy="1852.3" r="11.3"/><circle cx="1291.3" cy="1853.6" r="11.3"/><circle cx="1303.1" cy="1850.6" r="11.3"/><circle cx="1309.8" cy="1843.4" r="11.3"/><circle cx="1304.7" cy="1836.3" r="11.3"/><circle cx="1292.6" cy="1836.3" r="11.3"/><circle cx="1280.4" cy="1836.3" r="11.3"/></g><g fill="#AC04E0"><circle cx="1266" cy="1823" r="11"/><circle cx="1307.9" cy="1823" r="11"/></g>
<path d="M1287.8 1836.2V1852.3M1272.8 1836.2H1302.8M1272.8 1852.3H1302.8M1256.8 1844.6H1318.8" stroke="#000" stroke-width="5.8" fill="none"/>
<text transform="translate(142.2,845.5) rotate(-90)" font-size="42" textLength="78.2" lengthAdjust="spacingAndGlyphs">(Log</text>
<text transform="translate(142.2,845.5) rotate(-90)" x="78.2" y="6" font-size="28" textLength="29.6" lengthAdjust="spacingAndGlyphs">10</text>
<text transform="translate(142.2,845.5) rotate(-90)" x="107.8" y="0" font-size="42">)</text>
<text transform="translate(135.8,1940.3) rotate(-90)" font-size="42" textLength="78.2" lengthAdjust="spacingAndGlyphs">(Log</text>
<text transform="translate(135.8,1940.3) rotate(-90)" x="78.2" y="6" font-size="28" textLength="29.6" lengthAdjust="spacingAndGlyphs">10</text>
<text transform="translate(135.8,1940.3) rotate(-90)" x="107.8" y="0" font-size="42">)</text>
</svg></body></html>
